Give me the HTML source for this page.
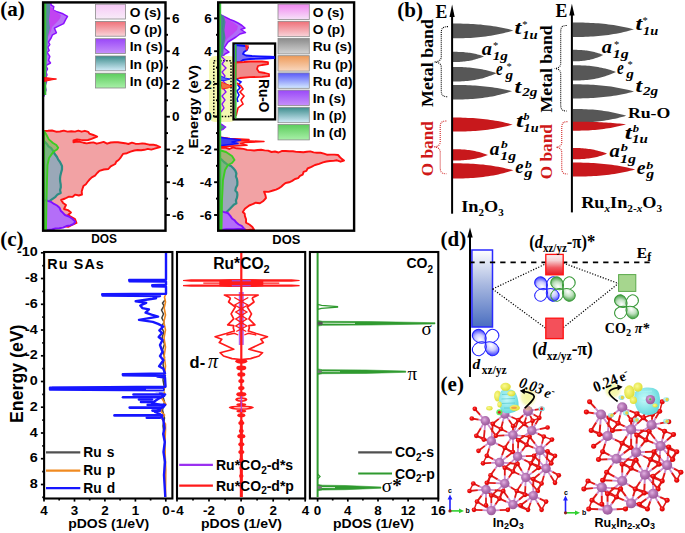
<!DOCTYPE html>
<html><head><meta charset="utf-8"><style>
html,body{margin:0;padding:0;background:#fff;}
svg{display:block;}
.s{font-family:"Liberation Sans",sans-serif;font-weight:bold;}
.t{font-family:"Liberation Serif",serif;font-weight:bold;}
.ti{font-family:"Liberation Serif",serif;font-weight:bold;font-style:italic;}
</style></head><body>
<svg width="685" height="533" viewBox="0 0 685 533">
<defs>
<linearGradient id="gOs" x1="0" y1="0" x2="0" y2="1"><stop offset="0" stop-color="#f086f0"/><stop offset="1" stop-color="#f6e2f8"/></linearGradient>
<linearGradient id="gOs1" x1="0" y1="0" x2="0" y2="1"><stop offset="0" stop-color="#f6c8f6"/><stop offset="1" stop-color="#f8ecf8"/></linearGradient>
<linearGradient id="gOp" x1="0" y1="0" x2="0" y2="1"><stop offset="0" stop-color="#f07078"/><stop offset="1" stop-color="#f8d4da"/></linearGradient>
<linearGradient id="gIs" x1="0" y1="0" x2="0" y2="1"><stop offset="0" stop-color="#9a48f8"/><stop offset="1" stop-color="#c690fa"/></linearGradient>
<linearGradient id="gIp" x1="0" y1="0" x2="0" y2="1"><stop offset="0" stop-color="#3c8c8c"/><stop offset="1" stop-color="#d4ecf8"/></linearGradient>
<linearGradient id="gId" x1="0" y1="0" x2="0" y2="1"><stop offset="0" stop-color="#5ccc5c"/><stop offset="1" stop-color="#a8f0a8"/></linearGradient>
<linearGradient id="gRs" x1="0" y1="0" x2="0" y2="1"><stop offset="0" stop-color="#8c8c8c"/><stop offset="1" stop-color="#d4d4d4"/></linearGradient>
<linearGradient id="gRp" x1="0" y1="0" x2="0" y2="1"><stop offset="0" stop-color="#ee9a58"/><stop offset="1" stop-color="#f8d8c0"/></linearGradient>
<linearGradient id="gRd" x1="0" y1="0" x2="0" y2="1"><stop offset="0" stop-color="#5858f8"/><stop offset="1" stop-color="#d4eaff"/></linearGradient>
<linearGradient id="gBlue" x1="0" y1="0" x2="0" y2="1"><stop offset="0" stop-color="#ffffff"/><stop offset="0.45" stop-color="#a8b8e0"/><stop offset="1" stop-color="#4a6ec0"/></linearGradient>
<linearGradient id="gRedT" x1="0" y1="0" x2="0" y2="1"><stop offset="0" stop-color="#fcf2f3"/><stop offset="0.3" stop-color="#f6d0d3"/><stop offset="0.65" stop-color="#f05a62"/><stop offset="1" stop-color="#ec1822"/></linearGradient>
<radialGradient id="gY" cx="0.5" cy="0.5" r="0.5"><stop offset="0" stop-color="#f4f8a0"/><stop offset="0.7" stop-color="#f6f9b8"/><stop offset="1" stop-color="#ffffff" stop-opacity="0"/></radialGradient>
</defs>

<!-- ============ PANEL A ============ -->
<g id="pa">
<text class="t" x="0.3" y="15.8" font-size="21">(a)</text>
<polygon points="44,3 51,3 51,5 53.8,6.6 53.1,9.8 57,11.8 63,13.8 67.5,16.4 65.6,19.7 63.6,23.6 58.4,26.2 54.4,28.2 56.4,32.8 52.5,34.8 51.1,38 48.5,42 49.8,44.6 47.9,47.2 49.2,50.5 47.2,52.5 49.8,56.4 48.5,60.3 50.5,63 45.9,65.6 47.5,69 46,72 47,75 45.5,78 46.5,82 45,86 46,90 44.5,94 44,96" fill="#b873f8" stroke="#8a10ff" stroke-width="1.5" stroke-linejoin="round"/>
<polygon points="44,4 49,5 52,8 55,11 58,13 61,15.5 60,18.5 58,21 55,24 52,27 51,31 49,35 47,40 46,48 45,60 44,64" fill="#c23cf0" opacity="0.85"/>
<polygon points="44,3 50,3 50,12 49,20 50,28 48,36 47.5,45 47,55 46.5,65 46,75 45,90 44,96" fill="#5c8aa0"/>
<rect x="44" y="3" width="2.3" height="92" fill="#3cc03c"/><rect x="44" y="130" width="2.3" height="99" fill="#3cc03c"/>
<polygon points="44,77.5 49,78 56.5,79 50,80.2 44,81.5" fill="#ff2020" stroke="#ff1010" stroke-width="1"/>
<polygon points="44.0,131.0 48.0,130.8 52.0,130.5 56.0,131.7 60.0,131.5 63.8,130.6 67.5,131.6 71.3,131.3 75.0,131.6 78.3,130.7 81.6,131.7 84.9,130.8 88.2,131.8 89.3,133.6 93.3,135.0 97.2,136.6 91.5,138.8 88.0,140.0 84.4,140.3 80.7,139.9 77.0,139.4 73.5,140.4 73.5,142.2 76.8,141.5 80.1,141.8 83.4,142.7 86.7,143.4 90.1,142.7 93.4,142.4 96.7,143.7 100.0,142.8 103.6,141.9 107.1,143.7 110.7,142.5 114.3,142.3 117.9,142.3 121.4,142.7 125.0,143.2 128.4,144.0 131.9,142.7 135.3,143.7 138.7,143.9 142.2,143.4 145.6,143.8 149.2,144.7 153.2,144.6 156.8,145.5 160.2,147.2 154.6,148.7 151.3,149.6 147.8,148.9 144.5,149.8 141.1,150.3 137.7,150.0 134.3,150.5 130.6,151.7 126.9,153.2 123.0,153.9 120.8,157.3 118.6,160.0 116.3,161.6 115.2,164.0 110.7,166.3 108.4,169.0 103.8,169.5 99.4,170.8 97.2,173.0 95.0,175.7 91.8,177.4 89.3,179.8 87.5,182.0 85.9,184.3 83.4,186.1 82.5,188.8 81.7,191.6 82.0,194.5 78.8,195.5 75.3,194.6 72.4,196.9 69.0,196.7 65.1,198.5 61.1,200.0 63.1,202.9 66.0,205.0 64.0,209.0 67.9,210.1 71.0,212.5 68.0,215.0 71.5,217.0 75.0,219.0 76.5,223.0 72.0,225.0 68.2,226.8 63.9,226.3 60.0,227.5 56.5,227.6 53.3,228.7 50.0,229.5 44.0,229.5" fill="#f2a2a4" stroke="#ff1010" stroke-width="1.9" stroke-linejoin="round"/>
<polygon points="44.0,141.0 47.0,144.0 48.5,146.4 51.0,148.0 53.0,150.6 54.4,153.5 57.0,157.0 58.2,159.6 60.0,162.0 62.0,166.0 62.0,169.4 61.0,173.0 60.3,175.9 60.0,178.8 60.2,181.6 60.7,184.4 60.8,187.3 60.1,190.1 60.7,193.0 57.6,194.4 55.5,196.8 53.0,198.6 50.4,200.4 49.0,203.3 48.2,206.3 49.3,208.7 48.4,211.2 49.0,213.6 48.2,216.0 47.1,218.3 47.5,220.9 46.2,223.7 46.4,226.7 45.3,229.5 44.0,229.5" fill="#9aa8b8" stroke="#2e8c84" stroke-width="2.2" stroke-linejoin="round"/>
<polygon points="44,190 46,193 48,198 49,205 48.5,212 47,220 46,229.5 44,229.5" fill="#8c8ce8"/>
<polygon points="44.0,200.0 47.6,200.8 51.2,201.9 54.0,203.9 57.0,205.5 59.5,207.7 60.7,210.7 62.9,212.8 65.0,215.0 68.9,216.5 72.3,218.7 75.3,221.6 73.8,223.8 70.3,225.4 66.5,226.0 63.1,227.6 59.2,228.2 55.5,228.5 51.9,229.5 48.0,230.0 44.0,229.5" fill="#b46ef8" stroke="#8010ff" stroke-width="1.9" stroke-linejoin="round"/>
<polygon points="44,131 46,134 48.8,139.4 53,143 56.3,145 58.2,147.8 57,149.5 53.5,151.6 49,158 47.5,165 47,180 46.5,200 46,229.5 44,229.5" fill="#60c050" fill-opacity="0.55" stroke="#3ccc22" stroke-width="1.9" stroke-linejoin="round"/>
<rect x="43.1" y="2.4" width="122.4" height="228.3" fill="none" stroke="#000" stroke-width="2.4"/>
<line x1="165.3" y1="215.0" x2="169.9" y2="215.0" stroke="#000" stroke-width="1.9"/>
<text class="s" transform="translate(172,219.6) scale(1.075,1)" font-size="12.6">-6</text>
<line x1="165.3" y1="198.6" x2="168.0" y2="198.6" stroke="#000" stroke-width="1.9"/>
<line x1="165.3" y1="182.2" x2="169.9" y2="182.2" stroke="#000" stroke-width="1.9"/>
<text class="s" transform="translate(172,186.8) scale(1.075,1)" font-size="12.6">-4</text>
<line x1="165.3" y1="165.8" x2="168.0" y2="165.8" stroke="#000" stroke-width="1.9"/>
<line x1="165.3" y1="149.5" x2="169.9" y2="149.5" stroke="#000" stroke-width="1.9"/>
<text class="s" transform="translate(172,154.1) scale(1.075,1)" font-size="12.6">-2</text>
<line x1="165.3" y1="133.1" x2="168.0" y2="133.1" stroke="#000" stroke-width="1.9"/>
<line x1="165.3" y1="116.7" x2="169.9" y2="116.7" stroke="#000" stroke-width="1.9"/>
<text class="s" transform="translate(172,121.3) scale(1.075,1)" font-size="12.6">0</text>
<line x1="165.3" y1="100.3" x2="168.0" y2="100.3" stroke="#000" stroke-width="1.9"/>
<line x1="165.3" y1="83.9" x2="169.9" y2="83.9" stroke="#000" stroke-width="1.9"/>
<text class="s" transform="translate(172,88.5) scale(1.075,1)" font-size="12.6">2</text>
<line x1="165.3" y1="67.6" x2="168.0" y2="67.6" stroke="#000" stroke-width="1.9"/>
<line x1="165.3" y1="51.2" x2="169.9" y2="51.2" stroke="#000" stroke-width="1.9"/>
<text class="s" transform="translate(172,55.8) scale(1.075,1)" font-size="12.6">4</text>
<line x1="165.3" y1="34.8" x2="168.0" y2="34.8" stroke="#000" stroke-width="1.9"/>
<line x1="165.3" y1="18.4" x2="169.9" y2="18.4" stroke="#000" stroke-width="1.9"/>
<text class="s" transform="translate(172,23.0) scale(1.075,1)" font-size="12.6">6</text>
<rect x="95.5" y="4.2" width="30" height="14.8" fill="url(#gOs1)" stroke="#8a8a8a" stroke-width="0.8"/>
<text class="s" transform="translate(129.8,16.8) scale(1.075,1)" font-size="12.8">O (s)</text>
<rect x="95.5" y="21.4" width="30" height="14.8" fill="url(#gOp)" stroke="#8a8a8a" stroke-width="0.8"/>
<text class="s" transform="translate(129.8,34.0) scale(1.075,1)" font-size="12.8">O (p)</text>
<rect x="95.5" y="38.7" width="30" height="14.8" fill="url(#gIs)" stroke="#8a8a8a" stroke-width="0.8"/>
<text class="s" transform="translate(129.8,51.3) scale(1.075,1)" font-size="12.8">In (s)</text>
<rect x="95.5" y="56.0" width="30" height="14.8" fill="url(#gIp)" stroke="#8a8a8a" stroke-width="0.8"/>
<text class="s" transform="translate(129.8,68.5) scale(1.075,1)" font-size="12.8">In (p)</text>
<rect x="95.5" y="73.2" width="30" height="14.8" fill="url(#gId)" stroke="#8a8a8a" stroke-width="0.8"/>
<text class="s" transform="translate(129.8,85.8) scale(1.075,1)" font-size="12.8">In (d)</text>
<text class="s" x="91.2" y="243.4" font-size="12.3" textLength="25.8" lengthAdjust="spacingAndGlyphs">DOS</text>
<text class="s" transform="translate(198,148.5) rotate(-90)" font-size="13" textLength="83.5" lengthAdjust="spacingAndGlyphs">Energy (eV)</text>
<polygon points="219,14 222,15.5 226,17.5 230,19.5 234,21 238,23 242,25.5 245,28 241,29.5 245.5,32.5 240,34 236,37 232,39.5 228,42 226,45 224,48 229,52 225,54 222,57 225,60 222,64 226,68 222,72 225,76 222,80 226,84 223,88 226,92 222,96 225,100 222,104 224,108 221,112 219,114" fill="#b06cf8" stroke="#8a10ff" stroke-width="1.5" stroke-linejoin="round"/>
<polygon points="219,15 224,17 229,20 234,23 238,26 237,30 233,34 228,38 225,42 222,48 221,55 219,60" fill="#c23cf0" opacity="0.8"/>
<polygon points="219,14 224,16 225.5,22 224.5,30 225.5,38 224,46 223,56 222,66 221,80 219,90" fill="#4f7fa0"/><polyline points="221,15 223.5,20 222.5,28 224,36 222.5,44 222,52" fill="none" stroke="#3a9080" stroke-width="1.2"/>
<polygon points="219,123 222,124.4 225.7,127 223,129.5 219,130.8" fill="#4e8a96" stroke="#8a10ff" stroke-width="1.2"/>
<polygon points="219,137 230,138.6 249,139.4 238,140.5 264,141.5 245,142.6 240.6,143.6 247,145.3 230,146.2 219,146.8" fill="#f08080" stroke="#ff1010" stroke-width="1.5" stroke-linejoin="round"/>
<polygon points="219,137.2 228,138.5 240.6,140 232,142 238,143.5 226,145 219,145.8" fill="#4040f0" stroke="#1010ff" stroke-width="1.5" stroke-linejoin="round"/>
<polygon points="219.0,147.9 222.5,147.5 226.0,147.9 229.5,149.0 233.0,147.4 236.5,148.3 240.0,148.5 243.5,148.9 247.0,149.9 250.5,150.1 254.1,150.5 257.7,150.0 261.2,149.8 264.6,150.4 268.1,150.6 271.5,152.0 275.0,151.5 278.5,152.5 282.2,150.9 285.7,151.0 289.3,151.2 292.9,151.3 296.4,151.9 300.0,152.0 303.4,152.3 306.8,151.8 310.3,151.4 313.6,152.4 317.0,152.7 320.5,152.8 324.0,153.6 327.4,154.8 330.9,154.6 334.5,154.6 338.0,155.0 339.8,157.0 341.7,158.9 344.0,160.5 340.6,161.7 336.9,160.3 333.4,160.9 329.9,161.0 326.4,161.5 323.0,162.4 319.1,163.9 315.0,165.0 311.4,166.9 307.6,168.5 306.4,170.9 303.6,171.9 302.7,174.6 300.0,175.8 298.1,178.2 295.0,179.0 292.2,180.9 289.1,182.3 285.6,183.0 283.3,184.8 281.2,186.8 278.7,188.4 276.0,189.6 273.0,190.5 268.6,191.9 264.0,191.7 265.3,194.8 266.0,198.0 263.0,201.3 259.9,203.3 255.8,202.7 252.6,204.2 249.2,205.5 244.9,208.8 242.8,212.0 244.7,213.8 244.9,216.2 246.1,219.3 246.0,222.6 249.4,224.5 252.4,226.9 254.0,229.5 250.5,229.8 247.0,230.3 243.5,228.8 240.0,228.5 236.5,229.6 233.0,229.5 229.5,230.4 226.0,230.3 222.5,229.8 219.0,229.5" fill="#f2a2a4" stroke="#ff1010" stroke-width="1.9" stroke-linejoin="round"/>
<polygon points="219.0,158.0 221.8,159.7 224.0,162.0 227.2,164.4 231.0,166.0 233.3,168.2 235.3,170.6 236.4,173.5 235.9,176.4 237.0,179.2 237.4,182.0 237.3,185.0 235.9,187.7 235.3,190.6 237.1,192.5 237.4,194.9 237.0,197.7 235.9,200.5 236.4,203.4 233.8,204.8 231.9,206.8 230.0,208.8 226.7,212.0 226.5,214.6 225.7,217.2 225.4,219.8 223.7,222.1 223.5,224.8 223.2,227.1 223.0,229.5 219.0,229.5" fill="#9aa8b8" stroke="#2e8c84" stroke-width="2.2" stroke-linejoin="round"/>
<polygon points="219,192 221,195 223,205 222.5,215 222,229.5 219,229.5" fill="#8c8ce8"/>
<polygon points="219.0,210.0 223.3,211.8 227.8,213.0 230.1,215.6 232.0,218.4 234.5,220.2 236.4,222.6 238.8,224.5 241.7,225.8 244.9,229.5 241.2,228.9 237.5,229.0 233.8,229.1 230.1,229.1 226.4,229.2 222.7,229.8 219.0,229.5" fill="#b46ef8" stroke="#8010ff" stroke-width="1.9" stroke-linejoin="round"/>
<polygon points="219,150 226,152 232,156 234.5,160 232,163 228,165 225,170 224,175 223,180 222,200 221.5,229.5 219,229.5" fill="#60c050" fill-opacity="0.55" stroke="#3ccc22" stroke-width="1.9" stroke-linejoin="round"/>
<rect x="219" y="3" width="2.2" height="226" fill="#3cc03c"/>
<rect x="209" y="56" width="27" height="66" rx="6" fill="#f3f7a8" opacity="0.9"/>
<rect x="213.8" y="60.8" width="17.2" height="55.6" fill="none" stroke="#000" stroke-width="1.5" stroke-dasharray="1.5,1.6"/>
<polyline points="221,56 225,60 222,64 226,68 222,72 225,76 222,80 226,84 223,88 226,92 222,96 225,100 222,104 224,108 221,112" fill="none" stroke="#8a10ff" stroke-width="1.3"/>
<polygon points="221,82 226,84 232,86 228,88 222,89" fill="#f07040" stroke="#ff3010" stroke-width="1"/>
<polyline points="221,76 225,78 230,79 225,80.5 221,80.5" fill="#6060f0" stroke="#2020ff" stroke-width="1"/>
<rect x="219" y="56" width="2.2" height="66" fill="#3cc03c"/>
<rect x="218.2" y="2.4" width="135.9" height="228.3" fill="none" stroke="#000" stroke-width="2.4"/>
<line x1="214.1" y1="215.0" x2="218.2" y2="215.0" stroke="#000" stroke-width="1.9"/>
<text class="s" transform="translate(211.8,219.6) scale(1.075,1)" font-size="12.6" text-anchor="end">-6</text>
<line x1="216.0" y1="198.6" x2="218.2" y2="198.6" stroke="#000" stroke-width="1.9"/>
<line x1="214.1" y1="182.2" x2="218.2" y2="182.2" stroke="#000" stroke-width="1.9"/>
<text class="s" transform="translate(211.8,186.8) scale(1.075,1)" font-size="12.6" text-anchor="end">-4</text>
<line x1="216.0" y1="165.8" x2="218.2" y2="165.8" stroke="#000" stroke-width="1.9"/>
<line x1="214.1" y1="149.5" x2="218.2" y2="149.5" stroke="#000" stroke-width="1.9"/>
<text class="s" transform="translate(211.8,154.1) scale(1.075,1)" font-size="12.6" text-anchor="end">-2</text>
<line x1="216.0" y1="133.1" x2="218.2" y2="133.1" stroke="#000" stroke-width="1.9"/>
<line x1="214.1" y1="116.7" x2="218.2" y2="116.7" stroke="#000" stroke-width="1.9"/>
<text class="s" transform="translate(211.8,121.3) scale(1.075,1)" font-size="12.6" text-anchor="end">0</text>
<line x1="216.0" y1="100.3" x2="218.2" y2="100.3" stroke="#000" stroke-width="1.9"/>
<line x1="214.1" y1="83.9" x2="218.2" y2="83.9" stroke="#000" stroke-width="1.9"/>
<text class="s" transform="translate(211.8,88.5) scale(1.075,1)" font-size="12.6" text-anchor="end">2</text>
<line x1="216.0" y1="67.6" x2="218.2" y2="67.6" stroke="#000" stroke-width="1.9"/>
<line x1="214.1" y1="51.2" x2="218.2" y2="51.2" stroke="#000" stroke-width="1.9"/>
<text class="s" transform="translate(211.8,55.8) scale(1.075,1)" font-size="12.6" text-anchor="end">4</text>
<line x1="216.0" y1="34.8" x2="218.2" y2="34.8" stroke="#000" stroke-width="1.9"/>
<line x1="214.1" y1="18.4" x2="218.2" y2="18.4" stroke="#000" stroke-width="1.9"/>
<text class="s" transform="translate(211.8,23.0) scale(1.075,1)" font-size="12.6" text-anchor="end">6</text>
<rect x="233.5" y="43.5" width="41.6" height="75.9" fill="#fff" stroke="#000" stroke-width="2.3"/>
<polygon points="235.5,45 240,45.5 245,46 248,47.5 247,50 244,52 243,54 246,55.5 252,56 260,56.3 270,56.7 274,57 274,58.2 265,58.5 250,59 243,60 240,62 235.5,62" fill="#8070f0" stroke="#1010ff" stroke-width="1.8" stroke-linejoin="round"/>
<polygon points="245,44.8 249,45.5 248,49 246,51" fill="#ff2020"/>
<polygon points="235.5,62.5 244,62 250,61.5 262,61.5 268,62.2 268,64.2 262,65 258,66 257,69 259,72 265,73 269,74 269,76.2 262,76.8 250,77.2 240,78 237,79 235.5,79" fill="#f08a8a" stroke="#ff1010" stroke-width="1.8" stroke-linejoin="round"/>
<polyline points="236,79 241,82 238,85 240,88 237,91 239,95 237,99 238,102" fill="none" stroke="#1010ff" stroke-width="1.6"/>
<polyline points="237,83 241,86 243,89 240,92 244,96 241,100 243,104 238,108 237,112 236,116" fill="none" stroke="#ff1010" stroke-width="1.6"/>
<line x1="235.8" y1="44.5" x2="235.8" y2="118.5" stroke="#3cc03c" stroke-width="1.6"/>
<text class="s" transform="translate(258.5,79) rotate(90)" font-size="14" textLength="33.5" lengthAdjust="spacingAndGlyphs">Ru-O</text>
<rect x="278" y="4.1" width="31.3" height="15.4" fill="url(#gOs)" stroke="#8a8a8a" stroke-width="0.8"/>
<text class="s" transform="translate(312.8,17.0) scale(1.075,1)" font-size="12.8">O (s)</text>
<rect x="278" y="21.3" width="31.3" height="15.4" fill="url(#gOp)" stroke="#8a8a8a" stroke-width="0.8"/>
<text class="s" transform="translate(312.8,34.2) scale(1.075,1)" font-size="12.8">O (p)</text>
<rect x="278" y="38.5" width="31.3" height="15.4" fill="url(#gRs)" stroke="#8a8a8a" stroke-width="0.8"/>
<text class="s" transform="translate(312.8,51.4) scale(1.075,1)" font-size="12.8">Ru (s)</text>
<rect x="278" y="55.7" width="31.3" height="15.4" fill="url(#gRp)" stroke="#8a8a8a" stroke-width="0.8"/>
<text class="s" transform="translate(312.8,68.6) scale(1.075,1)" font-size="12.8">Ru (p)</text>
<rect x="278" y="72.9" width="31.3" height="15.4" fill="url(#gRd)" stroke="#8a8a8a" stroke-width="0.8"/>
<text class="s" transform="translate(312.8,85.8) scale(1.075,1)" font-size="12.8">Ru (d)</text>
<rect x="278" y="90.1" width="31.3" height="15.4" fill="url(#gIs)" stroke="#8a8a8a" stroke-width="0.8"/>
<text class="s" transform="translate(312.8,103.0) scale(1.075,1)" font-size="12.8">In (s)</text>
<rect x="278" y="107.3" width="31.3" height="15.4" fill="url(#gIp)" stroke="#8a8a8a" stroke-width="0.8"/>
<text class="s" transform="translate(312.8,120.2) scale(1.075,1)" font-size="12.8">In (p)</text>
<rect x="278" y="124.5" width="31.3" height="15.4" fill="url(#gId)" stroke="#8a8a8a" stroke-width="0.8"/>
<text class="s" transform="translate(312.8,137.4) scale(1.075,1)" font-size="12.8">In (d)</text>
<text class="s" x="272.3" y="244.2" font-size="13" textLength="28" lengthAdjust="spacingAndGlyphs">DOS</text>
</g>
<text class="t" x="397.3" y="16.6" font-size="21">(b)</text>
<polygon points="453.0,23.6 455.5,23.6 458.0,23.6 460.6,23.6 463.1,23.7 465.6,23.8 468.1,23.8 470.6,24.0 473.1,24.1 475.6,24.2 478.2,24.4 480.7,24.6 483.2,24.9 485.7,25.2 488.2,25.5 490.8,25.8 493.3,26.2 495.8,26.6 498.3,27.0 500.8,27.5 503.3,28.0 505.8,28.5 508.4,29.1 510.9,29.7 513.4,30.4 513.4,30.4 510.9,31.2 508.4,31.9 505.8,32.6 503.3,33.2 500.8,33.8 498.3,34.3 495.8,34.8 493.3,35.3 490.8,35.7 488.2,36.1 485.7,36.5 483.2,36.8 480.7,37.1 478.2,37.3 475.6,37.5 473.1,37.7 470.6,37.9 468.1,38.0 465.6,38.1 463.1,38.2 460.6,38.2 458.0,38.3 455.5,38.3 453.0,38.3" fill="#575757"/>
<polygon points="453.0,51.8 454.3,51.8 455.6,51.8 456.9,51.8 458.2,51.9 459.5,51.9 460.8,52.0 462.0,52.0 463.3,52.1 464.6,52.2 465.9,52.4 467.2,52.5 468.5,52.7 469.8,52.8 471.1,53.0 472.4,53.3 473.7,53.5 475.0,53.8 476.2,54.1 477.5,54.4 478.8,54.7 480.1,55.1 481.4,55.5 482.7,55.9 484.0,56.3 484.0,56.3 482.7,56.9 481.4,57.4 480.1,57.9 478.8,58.3 477.5,58.7 476.2,59.1 475.0,59.5 473.7,59.8 472.4,60.2 471.1,60.4 469.8,60.7 468.5,60.9 467.2,61.1 465.9,61.3 464.6,61.5 463.3,61.6 462.0,61.7 460.8,61.8 459.5,61.9 458.2,61.9 456.9,62.0 455.6,62.0 454.3,62.0 453.0,62.0" fill="#575757"/>
<polygon points="453.0,67.0 454.8,67.0 456.6,67.0 458.4,67.0 460.2,67.1 462.1,67.1 463.9,67.2 465.7,67.3 467.5,67.4 469.3,67.6 471.1,67.8 472.9,68.0 474.8,68.2 476.6,68.4 478.4,68.7 480.2,69.0 482.0,69.3 483.8,69.7 485.6,70.1 487.4,70.5 489.2,71.0 491.1,71.5 492.9,72.0 494.7,72.6 496.5,73.2 496.5,73.2 494.7,74.0 492.9,74.8 491.1,75.5 489.2,76.1 487.4,76.8 485.6,77.3 483.8,77.9 482.0,78.4 480.2,78.8 478.4,79.2 476.6,79.6 474.8,79.9 472.9,80.2 471.1,80.5 469.3,80.7 467.5,80.9 465.7,81.1 463.9,81.2 462.1,81.3 460.2,81.4 458.4,81.4 456.6,81.5 454.8,81.5 453.0,81.5" fill="#575757"/>
<polygon points="453.0,85.0 455.5,85.0 457.9,85.0 460.4,85.0 462.8,85.1 465.3,85.1 467.8,85.2 470.2,85.3 472.7,85.4 475.1,85.6 477.6,85.8 480.0,86.0 482.5,86.2 485.0,86.4 487.4,86.7 489.9,87.0 492.3,87.3 494.8,87.7 497.2,88.1 499.7,88.5 502.2,89.0 504.6,89.5 507.1,90.0 509.5,90.6 512.0,91.2 512.0,91.2 509.5,92.0 507.1,92.8 504.6,93.5 502.2,94.1 499.7,94.8 497.2,95.3 494.8,95.9 492.3,96.4 489.9,96.8 487.4,97.2 485.0,97.6 482.5,97.9 480.0,98.2 477.6,98.5 475.1,98.7 472.7,98.9 470.2,99.1 467.8,99.2 465.3,99.3 462.8,99.4 460.4,99.4 457.9,99.5 455.5,99.5 453.0,99.5" fill="#575757"/>
<polygon points="453.0,117.6 455.5,117.6 458.0,117.6 460.5,117.6 462.9,117.7 465.4,117.8 467.9,117.9 470.4,118.0 472.9,118.1 475.4,118.3 477.9,118.5 480.4,118.7 482.9,118.9 485.3,119.2 487.8,119.5 490.3,119.9 492.8,120.2 495.3,120.7 497.8,121.1 500.3,121.6 502.8,122.1 505.2,122.7 507.7,123.3 510.2,123.9 512.7,124.6 512.7,124.6 510.2,125.3 507.7,125.9 505.2,126.5 502.8,127.1 500.3,127.6 497.8,128.1 495.3,128.5 492.8,129.0 490.3,129.3 487.8,129.7 485.3,130.0 482.9,130.3 480.4,130.5 477.9,130.7 475.4,130.9 472.9,131.1 470.4,131.2 467.9,131.3 465.4,131.4 462.9,131.5 460.5,131.6 458.0,131.6 455.5,131.6 453.0,131.6" fill="#c8181c"/>
<polygon points="453.0,149.2 454.5,149.2 455.9,149.2 457.4,149.2 458.8,149.3 460.3,149.3 461.8,149.4 463.2,149.5 464.7,149.6 466.1,149.8 467.6,149.9 469.0,150.1 470.5,150.3 472.0,150.5 473.4,150.8 474.9,151.1 476.3,151.4 477.8,151.7 479.2,152.1 480.7,152.5 482.2,152.9 483.6,153.4 485.1,153.9 486.5,154.4 488.0,155.0 488.0,155.0 486.5,155.5 485.1,156.0 483.6,156.5 482.2,156.9 480.7,157.4 479.2,157.7 477.8,158.1 476.3,158.4 474.9,158.7 473.4,159.0 472.0,159.2 470.5,159.5 469.0,159.7 467.6,159.8 466.1,160.0 464.7,160.1 463.2,160.2 461.8,160.3 460.3,160.4 458.8,160.4 457.4,160.5 455.9,160.5 454.5,160.5 453.0,160.5" fill="#c8181c"/>
<polygon points="453.0,163.3 455.5,163.3 458.0,163.3 460.6,163.3 463.1,163.4 465.6,163.5 468.1,163.6 470.6,163.7 473.1,163.8 475.6,164.0 478.2,164.2 480.7,164.4 483.2,164.6 485.7,164.9 488.2,165.2 490.8,165.6 493.3,165.9 495.8,166.4 498.3,166.8 500.8,167.3 503.3,167.8 505.8,168.4 508.4,169.0 510.9,169.6 513.4,170.3 513.4,170.3 510.9,171.1 508.4,171.8 505.8,172.5 503.3,173.2 500.8,173.8 498.3,174.4 495.8,174.9 493.3,175.4 490.8,175.8 488.2,176.3 485.7,176.6 483.2,176.9 480.7,177.2 478.2,177.5 475.6,177.7 473.1,177.9 470.6,178.1 468.1,178.2 465.6,178.3 463.1,178.4 460.6,178.4 458.0,178.5 455.5,178.5 453.0,178.5" fill="#c8181c"/>
<line x1="452.1" y1="12" x2="452.1" y2="213.7" stroke="#000" stroke-width="2"/>
<path d="M452.1,4.6 L449.5,17 L454.7,17 Z" fill="#000"/>
<text class="t" x="435.6" y="17.6" font-size="17.8">E</text>
<polygon points="572.8,22.5 575.3,22.5 577.9,22.5 580.4,22.5 583.0,22.6 585.5,22.7 588.1,22.7 590.6,22.9 593.2,23.0 595.8,23.2 598.3,23.3 600.9,23.6 603.4,23.8 605.9,24.1 608.5,24.4 611.0,24.7 613.6,25.1 616.1,25.5 618.7,26.0 621.2,26.4 623.8,27.0 626.4,27.5 628.9,28.1 631.5,28.7 634.0,29.4 634.0,29.4 631.5,30.1 628.9,30.8 626.4,31.5 623.8,32.1 621.2,32.7 618.7,33.2 616.1,33.7 613.6,34.1 611.0,34.5 608.5,34.9 605.9,35.3 603.4,35.6 600.9,35.8 598.3,36.1 595.8,36.3 593.2,36.5 590.6,36.6 588.1,36.7 585.5,36.8 583.0,36.9 580.4,36.9 577.9,37.0 575.3,37.0 572.8,37.0" fill="#575757"/>
<polygon points="572.8,49.8 574.1,49.8 575.3,49.8 576.6,49.8 577.9,49.9 579.2,49.9 580.4,50.0 581.7,50.1 583.0,50.2 584.2,50.3 585.5,50.4 586.8,50.6 588.0,50.8 589.3,51.0 590.6,51.2 591.9,51.5 593.1,51.8 594.4,52.1 595.7,52.4 596.9,52.8 598.2,53.2 599.5,53.6 600.8,54.0 602.0,54.5 603.3,55.0 603.3,55.0 602.0,55.6 600.8,56.2 599.5,56.7 598.2,57.2 596.9,57.7 595.7,58.1 594.4,58.5 593.1,58.9 591.9,59.3 590.6,59.6 589.3,59.9 588.0,60.1 586.8,60.3 585.5,60.5 584.2,60.7 583.0,60.8 581.7,61.0 580.4,61.1 579.2,61.2 577.9,61.2 576.6,61.3 575.3,61.3 574.1,61.3 572.8,61.3" fill="#575757"/>
<polygon points="572.8,65.2 574.6,65.2 576.4,65.2 578.2,65.2 580.0,65.3 581.8,65.4 583.6,65.4 585.4,65.6 587.2,65.7 589.0,65.8 590.8,66.0 592.6,66.2 594.4,66.5 596.2,66.8 598.0,67.1 599.8,67.4 601.6,67.8 603.4,68.2 605.2,68.6 607.0,69.1 608.8,69.6 610.6,70.1 612.4,70.7 614.2,71.3 616.0,72.0 616.0,72.0 614.2,72.8 612.4,73.6 610.6,74.3 608.8,75.0 607.0,75.6 605.2,76.2 603.4,76.8 601.6,77.3 599.8,77.7 598.0,78.2 596.2,78.5 594.4,78.9 592.6,79.2 590.8,79.5 589.0,79.7 587.2,79.9 585.4,80.1 583.6,80.2 581.8,80.3 580.0,80.4 578.2,80.4 576.4,80.5 574.6,80.5 572.8,80.5" fill="#575757"/>
<polygon points="572.8,84.3 575.3,84.3 577.9,84.3 580.4,84.3 583.0,84.4 585.5,84.5 588.1,84.6 590.6,84.7 593.2,84.8 595.8,85.0 598.3,85.2 600.9,85.4 603.4,85.7 605.9,86.0 608.5,86.3 611.0,86.6 613.6,87.0 616.1,87.4 618.7,87.9 621.2,88.4 623.8,88.9 626.4,89.5 628.9,90.1 631.5,90.8 634.0,91.5 634.0,91.5 631.5,92.2 628.9,92.8 626.4,93.4 623.8,93.9 621.2,94.5 618.7,94.9 616.1,95.4 613.6,95.8 611.0,96.2 608.5,96.5 605.9,96.8 603.4,97.1 600.9,97.3 598.3,97.6 595.8,97.7 593.2,97.9 590.6,98.0 588.1,98.2 585.5,98.2 583.0,98.3 580.4,98.4 577.9,98.4 575.3,98.4 572.8,98.4" fill="#575757"/>
<polygon points="572.8,109.0 575.0,109.0 577.2,109.0 579.5,109.0 581.7,109.1 583.9,109.2 586.1,109.2 588.4,109.4 590.6,109.5 592.8,109.6 595.0,109.8 597.3,110.0 599.5,110.3 601.7,110.6 604.0,110.9 606.2,111.2 608.4,111.6 610.6,112.0 612.9,112.4 615.1,112.9 617.3,113.4 619.5,113.9 621.8,114.5 624.0,115.1 626.2,115.8 626.2,115.8 624.0,116.5 621.8,117.1 619.5,117.6 617.3,118.2 615.1,118.7 612.9,119.1 610.6,119.6 608.4,120.0 606.2,120.3 604.0,120.7 601.7,121.0 599.5,121.2 597.3,121.5 595.0,121.7 592.8,121.9 590.6,122.0 588.4,122.2 586.1,122.3 583.9,122.3 581.7,122.4 579.5,122.5 577.2,122.5 575.0,122.5 572.8,122.5" fill="#575757"/>
<polygon points="572.8,121.7 575.0,121.7 577.2,121.7 579.4,121.7 581.7,121.7 583.9,121.8 586.1,121.8 588.3,121.8 590.5,121.9 592.8,121.9 595.0,122.0 597.2,122.1 599.4,122.2 601.6,122.3 603.8,122.4 606.0,122.5 608.3,122.7 610.5,122.8 612.7,123.0 614.9,123.2 617.1,123.4 619.4,123.6 621.6,123.8 623.8,124.0 626.0,124.3 626.0,124.3 623.8,124.9 621.6,125.5 619.4,126.1 617.1,126.6 614.9,127.0 612.7,127.5 610.5,127.9 608.3,128.3 606.0,128.6 603.8,128.9 601.6,129.2 599.4,129.5 597.2,129.7 595.0,129.9 592.8,130.1 590.5,130.2 588.3,130.4 586.1,130.5 583.9,130.6 581.7,130.6 579.4,130.7 577.2,130.7 575.0,130.7 572.8,130.7" fill="#c8181c"/>
<polygon points="572.8,148.0 574.2,148.0 575.6,148.0 577.1,148.0 578.5,148.1 579.9,148.1 581.3,148.2 582.8,148.3 584.2,148.4 585.6,148.5 587.0,148.7 588.5,148.9 589.9,149.1 591.3,149.3 592.8,149.6 594.2,149.8 595.6,150.2 597.0,150.5 598.5,150.9 599.9,151.3 601.3,151.7 602.7,152.1 604.1,152.6 605.6,153.1 607.0,153.7 607.0,153.7 605.6,154.2 604.1,154.8 602.7,155.2 601.3,155.7 599.9,156.1 598.5,156.5 597.0,156.9 595.6,157.2 594.2,157.5 592.8,157.8 591.3,158.0 589.9,158.2 588.5,158.4 587.0,158.6 585.6,158.8 584.2,158.9 582.8,159.0 581.3,159.1 579.9,159.2 578.5,159.2 577.1,159.3 575.6,159.3 574.2,159.3 572.8,159.3" fill="#c8181c"/>
<polygon points="572.8,162.6 575.4,162.6 578.0,162.6 580.6,162.6 583.2,162.7 585.8,162.8 588.4,162.8 591.0,163.0 593.6,163.1 596.2,163.3 598.8,163.4 601.4,163.7 604.0,163.9 606.6,164.2 609.2,164.5 611.8,164.8 614.4,165.2 617.0,165.6 619.6,166.1 622.2,166.5 624.8,167.1 627.4,167.6 630.0,168.2 632.6,168.8 635.2,169.5 635.2,169.5 632.6,170.2 630.0,170.8 627.4,171.4 624.8,172.0 622.2,172.5 619.6,173.0 617.0,173.5 614.4,173.9 611.8,174.3 609.2,174.7 606.6,175.0 604.0,175.3 601.4,175.5 598.8,175.7 596.2,175.9 593.6,176.1 591.0,176.2 588.4,176.3 585.8,176.4 583.2,176.5 580.6,176.6 578.0,176.6 575.4,176.6 572.8,176.6" fill="#c8181c"/>
<line x1="571.9" y1="12" x2="571.9" y2="212.4" stroke="#000" stroke-width="2"/>
<path d="M571.9,3.7 L569.3,15.6 L574.5,15.6 Z" fill="#000"/>
<text class="t" x="555.6" y="16.8" font-size="17.8">E</text>
<path d="M448,26.6 C441.25,26.6 441.25,29.6 441.25,34.6 L441.25,57 C441.25,61 436.5,62 434.5,62 C436.5,62 441.25,63 441.25,67 L441.25,88.8 C441.25,93.8 441.25,96.8 448,96.8" fill="none" stroke="#000" stroke-width="1.1" stroke-dasharray="1,1"/>
<path d="M446.4,121 C440.2,121 440.2,124 440.2,129 L440.2,141.9 C440.2,145.9 436,146.9 434,146.9 C436,146.9 440.2,147.9 440.2,151.9 L440.2,165.8 C440.2,170.8 440.2,173.8 446.4,173.8" fill="none" stroke="#d02020" stroke-width="1.1" stroke-dasharray="1,1"/>
<path d="M566.7,25.5 C560.7,25.5 560.7,28.5 560.7,33.5 L560.7,63.5 C560.7,67.5 556.7,68.5 554.7,68.5 C556.7,68.5 560.7,69.5 560.7,73.5 L560.7,103 C560.7,108 560.7,111 566.7,111" fill="none" stroke="#000" stroke-width="1.1" stroke-dasharray="1,1"/>
<path d="M567.5,121.7 C561.75,121.7 561.75,124.7 561.75,129.7 L561.75,142.3 C561.75,146.3 558,147.3 556,147.3 C558,147.3 561.75,148.3 561.75,152.3 L561.75,166 C561.75,171 561.75,174 567.5,174" fill="none" stroke="#d02020" stroke-width="1.1" stroke-dasharray="1,1"/>
<text class="t" transform="translate(433.4,107) rotate(-90)" font-size="17.5" textLength="88" lengthAdjust="spacingAndGlyphs">Metal band</text>
<text class="t" transform="translate(433.4,176.2) rotate(-90)" font-size="17.5" fill="#d01818" textLength="55" lengthAdjust="spacingAndGlyphs">O band</text>
<text class="t" transform="translate(552,112.4) rotate(-90)" font-size="17.5" textLength="87" lengthAdjust="spacingAndGlyphs">Metal band</text>
<text class="t" transform="translate(552,179.2) rotate(-90)" font-size="17.5" fill="#d01818" textLength="55" lengthAdjust="spacingAndGlyphs">O band</text>
<text class="ti" x="514.6" y="34.4" font-size="18" textLength="6.8" lengthAdjust="spacingAndGlyphs">t</text>
<text x="522.2" y="27.9" font-size="10.5" font-family="Liberation Serif,serif">*</text>
<text class="ti" x="522.2" y="38.6" font-size="12" textLength="15.5" lengthAdjust="spacingAndGlyphs">1u</text>
<text class="ti" x="481.7" y="54.6" font-size="18" textLength="10.2" lengthAdjust="spacingAndGlyphs">a</text>
<text x="493.0" y="49.0" font-size="10.5" font-family="Liberation Serif,serif">*</text>
<text class="ti" x="492.7" y="59.7" font-size="12" textLength="15.2" lengthAdjust="spacingAndGlyphs">1g</text>
<text class="ti" x="496.1" y="74.9" font-size="18" textLength="6.7" lengthAdjust="spacingAndGlyphs">e</text>
<text x="506.5" y="70.1" font-size="10.5" font-family="Liberation Serif,serif">*</text>
<text class="ti" x="505.4" y="79.1" font-size="12" textLength="7.6" lengthAdjust="spacingAndGlyphs">g</text>
<text class="ti" x="514.6" y="92.6" font-size="18" textLength="6.8" lengthAdjust="spacingAndGlyphs">t</text>
<text class="ti" x="522.2" y="96.0" font-size="12" textLength="15.2" lengthAdjust="spacingAndGlyphs">2g</text>
<text class="ti" x="516.0" y="126.8" font-size="18" textLength="7.6" lengthAdjust="spacingAndGlyphs">t</text>
<text class="ti" x="523.6" y="120.0" font-size="11" textLength="6.0" lengthAdjust="spacingAndGlyphs">b</text>
<text class="ti" x="523.6" y="132.0" font-size="12" textLength="15.0" lengthAdjust="spacingAndGlyphs">1u</text>
<text class="ti" x="489.8" y="154.6" font-size="18" textLength="9.7" lengthAdjust="spacingAndGlyphs">a</text>
<text class="ti" x="501.0" y="147.8" font-size="11" textLength="6.8" lengthAdjust="spacingAndGlyphs">b</text>
<text class="ti" x="500.3" y="159.6" font-size="12" textLength="15.7" lengthAdjust="spacingAndGlyphs">1g</text>
<text class="ti" x="515.3" y="173.3" font-size="18" textLength="8.3" lengthAdjust="spacingAndGlyphs">e</text>
<text class="ti" x="525.0" y="168.1" font-size="11" textLength="6.8" lengthAdjust="spacingAndGlyphs">b</text>
<text class="ti" x="524.3" y="176.9" font-size="12" textLength="8.3" lengthAdjust="spacingAndGlyphs">g</text>
<text class="ti" x="635.5" y="30.2" font-size="18" textLength="6.7" lengthAdjust="spacingAndGlyphs">t</text>
<text x="642.5" y="23.8" font-size="10.5" font-family="Liberation Serif,serif">*</text>
<text class="ti" x="643.0" y="34.5" font-size="12" textLength="15.2" lengthAdjust="spacingAndGlyphs">1u</text>
<text class="ti" x="601.7" y="53.0" font-size="18" textLength="10.2" lengthAdjust="spacingAndGlyphs">a</text>
<text x="613.9" y="48.2" font-size="10.5" font-family="Liberation Serif,serif">*</text>
<text class="ti" x="612.7" y="58.1" font-size="12" textLength="16.0" lengthAdjust="spacingAndGlyphs">1g</text>
<text class="ti" x="616.9" y="74.1" font-size="18" textLength="6.8" lengthAdjust="spacingAndGlyphs">e</text>
<text x="627.4" y="68.4" font-size="10.5" font-family="Liberation Serif,serif">*</text>
<text class="ti" x="626.2" y="77.5" font-size="12" textLength="7.6" lengthAdjust="spacingAndGlyphs">g</text>
<text class="ti" x="635.5" y="91.8" font-size="18" textLength="6.7" lengthAdjust="spacingAndGlyphs">t</text>
<text class="ti" x="643.0" y="95.2" font-size="12" textLength="15.2" lengthAdjust="spacingAndGlyphs">2g</text>
<text class="t" x="627.9" y="117.5" font-size="15.5" textLength="42.5" lengthAdjust="spacingAndGlyphs">Ru-O</text>
<text class="ti" x="624.7" y="139.0" font-size="18" textLength="7.2" lengthAdjust="spacingAndGlyphs">t</text>
<text class="ti" x="632.7" y="131.9" font-size="11" textLength="6.3" lengthAdjust="spacingAndGlyphs">b</text>
<text class="ti" x="631.9" y="143.4" font-size="12" textLength="15.9" lengthAdjust="spacingAndGlyphs">1u</text>
<text class="ti" x="609.6" y="157.4" font-size="18" textLength="10.3" lengthAdjust="spacingAndGlyphs">a</text>
<text class="ti" x="620.7" y="151.0" font-size="11" textLength="7.2" lengthAdjust="spacingAndGlyphs">b</text>
<text class="ti" x="619.9" y="162.9" font-size="12" textLength="16.0" lengthAdjust="spacingAndGlyphs">1g</text>
<text class="ti" x="636.7" y="174.2" font-size="18" textLength="8.8" lengthAdjust="spacingAndGlyphs">e</text>
<text class="ti" x="646.3" y="168.6" font-size="11" textLength="7.1" lengthAdjust="spacingAndGlyphs">b</text>
<text class="ti" x="646.3" y="178.0" font-size="12" textLength="7.9" lengthAdjust="spacingAndGlyphs">g</text>
<text class="t" x="461.2" y="211.7" font-size="17.5" textLength="42.5" lengthAdjust="spacingAndGlyphs">In<tspan font-size="10.5" dy="3.8">2</tspan><tspan dy="-3.8">O</tspan><tspan font-size="10.5" dy="3.8">3</tspan></text>
<text class="t" x="581.2" y="207.7" font-size="17" textLength="81" lengthAdjust="spacingAndGlyphs">Ru<tspan class="ti" font-size="10.5" dy="3.8">x</tspan><tspan dy="-3.8">In</tspan><tspan font-size="10.5" dy="3.8">2-</tspan><tspan class="ti" font-size="10.5">x</tspan><tspan dy="-3.8">O</tspan><tspan font-size="10.5" dy="3.8">3</tspan></text>
<text class="t" x="0.3" y="245.8" font-size="21">(c)</text>
<polyline points="165.0,300.0 162.5,303.0 164.0,306.0 161.5,310.0 163.5,314.0 161.8,318.0 164.0,322.0 161.5,327.0 163.8,332.0 162.0,338.0 164.5,344.0 162.5,350.0 164.5,357.0 163.0,364.0 164.5,372.0 163.0,380.0 164.5,388.0 162.5,395.0 164.5,402.0 162.5,410.0 164.5,418.0 163.0,426.0 164.8,440.0 164.5,470.0 165.0,497.0" fill="none" stroke="#404040" stroke-width="1.5"/>
<polyline points="166.0,294.0 164.5,297.0 165.5,302.0 164.2,308.0 165.5,315.0 163.8,322.0 165.5,330.0 164.0,338.0 165.5,347.0 164.2,356.0 165.5,366.0 164.5,376.0 165.5,386.0 162.5,390.0 164.5,393.0 161.0,397.0 163.5,401.0 166.0,404.5 162.0,408.0 161.0,411.5 164.5,415.0 162.0,419.0 165.5,424.0 165.5,430.0 164.8,445.0 165.8,470.0 165.5,497.0" fill="none" stroke="#f08a20" stroke-width="1.6"/>
<polyline points="166.0,253.0 166.0,279.6 129.2,280.0 129.5,281.3 166.0,281.6 166.0,284.8 152.2,285.2 152.5,286.3 166.0,286.6 166.0,293.8 102.2,294.2 102.5,295.5 160.0,296.0 153.5,297.0 156.0,298.3 135.7,301.3 146.2,302.9 140.3,305.5 142.3,308.1 148.9,309.4 145.6,312.7 151.5,314.7 158.1,316.6 139.0,319.9 152.8,321.9 158.1,323.9 163.3,326.5 159.4,330.4 162.0,333.0 158.7,337.0 162.5,340.0 160.0,345.0 162.5,351.9 160.0,356.1 163.4,360.3 159.1,366.2 163.4,368.8 165.0,373.4 122.8,374.2 123.0,375.3 165.0,375.8 157.4,376.6 165.0,377.5 165.5,386.8 50.0,387.6 50.0,389.6 163.0,390.2 160.0,393.0 164.0,396.0 158.0,399.0 155.0,401.0 152.0,403.0 160.0,405.0 164.0,406.5 160.0,409.0 155.0,412.0 160.0,414.0 162.0,417.0 163.3,420.0 164.5,428.0 163.2,434.0 164.8,442.0 163.5,452.0 165.0,462.0 164.0,475.0 165.3,497.0" fill="none" stroke="#1616ff" stroke-width="2.4" stroke-linejoin="round"/>
<line x1="133.5" y1="394.5" x2="165" y2="394.5" stroke="#1616ff" stroke-width="2.6" stroke-linecap="round"/>
<line x1="123" y1="397.3" x2="160" y2="397.3" stroke="#1616ff" stroke-width="2.6" stroke-linecap="round"/>
<line x1="139" y1="399.5" x2="152" y2="399.5" stroke="#1616ff" stroke-width="2.6" stroke-linecap="round"/>
<line x1="141" y1="402" x2="152.4" y2="402" stroke="#1616ff" stroke-width="2.6" stroke-linecap="round"/>
<line x1="147.7" y1="404.9" x2="165" y2="404.9" stroke="#1616ff" stroke-width="2.6" stroke-linecap="round"/>
<line x1="129.7" y1="407.6" x2="160" y2="407.6" stroke="#1616ff" stroke-width="2.6" stroke-linecap="round"/>
<line x1="152.5" y1="410.6" x2="160" y2="410.6" stroke="#1616ff" stroke-width="2.6" stroke-linecap="round"/>
<line x1="114.5" y1="415.4" x2="162" y2="415.4" stroke="#1616ff" stroke-width="2.6" stroke-linecap="round"/>
<line x1="146.8" y1="417.7" x2="160" y2="417.7" stroke="#1616ff" stroke-width="2.6" stroke-linecap="round"/>
<line x1="52" y1="388.4" x2="164" y2="388.4" stroke="#1616ff" stroke-width="3.2"/>
<line x1="146" y1="389.4" x2="163" y2="389.4" stroke="#9c9cf4" stroke-width="1.1"/>
<line x1="155.5" y1="391.8" x2="164" y2="391.8" stroke="#9c9cf4" stroke-width="1.6"/>
<rect x="44.1" y="252.0" width="128.3" height="246.5" fill="none" stroke="#000" stroke-width="2.1"/>
<polygon points="183.0,279.9 191.0,279.35 291.6,279.35 299.6,279.9 299.6,281.1 291.6,281.65 191.0,281.65 183.0,281.1" fill="#ff1a1a"/>
<polygon points="183.0,285.09999999999997 191.0,284.55 291.6,284.55 299.6,285.09999999999997 299.6,286.3 291.6,286.84999999999997 191.0,286.84999999999997 183.0,286.3" fill="#ff1a1a"/>
<line x1="203.3" y1="283.1" x2="279.3" y2="283.1" stroke="#ff1a1a" stroke-width="1.4"/>
<polygon points="219.3,280 229.3,279.2 253.3,279.2 263.3,280 263.3,286.2 253.3,287 229.3,287 219.3,286.2" fill="#ff1a1a"/>
<rect x="231.8" y="280" width="19" height="1.4" fill="#b040c8"/><rect x="231.8" y="285" width="19" height="1.4" fill="#b040c8"/>
<line x1="241.3" y1="292" x2="241.3" y2="345" stroke="#a040f0" stroke-width="5" opacity="0.8"/>
<polygon points="224.4,295.0 229.7,297.5 230.3,298.6 228.6,302.0 235.3,307.0 231.1,313.9 233.7,318.9 227.7,324.8 233.7,325.7 233.3,328.0 234.3,331.0 226.3,333.5 215.1,336.7 221.8,339.2 219.3,342.6 233.7,349.3 220.1,352.7 223.5,356.0 232.0,358.6 240.8,359.5 241.8,359.5 250.6,358.6 259.1,356.0 262.5,352.7 248.9,349.3 263.3,342.6 260.8,339.2 267.5,336.7 256.3,333.5 248.3,331.0 249.3,328.0 248.9,325.7 254.9,324.8 248.9,318.9 251.5,313.9 247.3,307.0 254.0,302.0 252.3,298.6 252.9,297.5 258.2,295.0" fill="none" stroke="#ff1a1a" stroke-width="1.7" stroke-linejoin="round"/>
<polyline points="234.3,297.5 247.8,305 235.8,312 246.8,319 235.8,326 246.3,331.5" fill="none" stroke="#ff1a1a" stroke-width="1.4"/>
<polyline points="248.3,297.5 234.8,305 246.8,312 235.8,319 246.8,326 236.3,331.5" fill="none" stroke="#ff1a1a" stroke-width="1.4"/>
<polyline points="226.3,335 234.3,333.3 238.3,335" fill="none" stroke="#ff1a1a" stroke-width="1.3"/><polyline points="256.3,335 248.3,333.3 244.3,335" fill="none" stroke="#ff1a1a" stroke-width="1.3"/>
<line x1="241.3" y1="253" x2="241.3" y2="497" stroke="#ff1a1a" stroke-width="2.2"/>
<line x1="241.3" y1="420" x2="241.3" y2="497" stroke="#ff1a1a" stroke-width="3"/>
<ellipse cx="241.3" cy="361.3" rx="6" ry="2.4" fill="#ff1a1a"/>
<ellipse cx="241.3" cy="367.9" rx="5" ry="2.4" fill="#ff1a1a"/>
<ellipse cx="241.3" cy="374.5" rx="4" ry="2.2" fill="#ff1a1a"/>
<ellipse cx="241.3" cy="381" rx="3" ry="2" fill="#ff1a1a"/>
<ellipse cx="241.3" cy="388" rx="3.2" ry="2" fill="#ff1a1a"/>
<ellipse cx="241.3" cy="394.2" rx="5" ry="2.3" fill="#ff1a1a"/>
<ellipse cx="241.3" cy="399.5" rx="6" ry="2.3" fill="#ff1a1a"/>
<ellipse cx="241.3" cy="404.5" rx="5" ry="1.6" fill="#ff1a1a"/>
<ellipse cx="241.3" cy="407.6" rx="12.5" ry="2.2" fill="#ff1a1a"/>
<ellipse cx="241.3" cy="411" rx="5" ry="1.6" fill="#ff1a1a"/>
<ellipse cx="241.3" cy="415.3" rx="4" ry="2" fill="#ff1a1a"/>
<ellipse cx="241.3" cy="423" rx="3" ry="2" fill="#ff1a1a"/>
<ellipse cx="241.3" cy="431" rx="2.5" ry="2" fill="#ff1a1a"/>
<ellipse cx="241.3" cy="436.3" rx="4" ry="2.2" fill="#ff1a1a"/>
<ellipse cx="241.3" cy="444.2" rx="3" ry="2" fill="#ff1a1a"/>
<ellipse cx="241.3" cy="452" rx="3" ry="2" fill="#ff1a1a"/>
<ellipse cx="241.3" cy="460" rx="2.2" ry="2" fill="#ff1a1a"/>
<ellipse cx="241.3" cy="468" rx="2" ry="2" fill="#ff1a1a"/>
<ellipse cx="241.3" cy="476" rx="2.2" ry="2" fill="#ff1a1a"/>
<ellipse cx="241.3" cy="486" rx="2" ry="2" fill="#ff1a1a"/>
<ellipse cx="241.3" cy="399.5" rx="3.5" ry="0.8" fill="#ffb0b0"/>
<ellipse cx="241.3" cy="407.6" rx="8" ry="0.8" fill="#ffb0b0"/>
<line x1="241.3" y1="396" x2="241.3" y2="412" stroke="#b040e0" stroke-width="1.2"/>
<rect x="177" y="252.0" width="128.2" height="246.5" fill="none" stroke="#000" stroke-width="2.1"/>
<line x1="317.6" y1="253" x2="317.6" y2="497" stroke="#2f9a2f" stroke-width="2"/>
<polygon points="317.6,304.3 321.6,305.4 337.5,306.6 337.5,307.1 321.6,308.3 317.6,309.4" fill="none" stroke="#2f9a2f" stroke-width="1.3"/>
<polygon points="317.6,320.5 322.6,321.3 371,321.6 435,322.7 435,323.90000000000003 371,325.0 322.6,325.3 317.6,326.1" fill="#2f9a2f" stroke="#2f9a2f" stroke-width="0.6"/>
<line x1="321.6" y1="323.2" x2="355" y2="323.4" stroke="#e8f4e8" stroke-width="0.9"/>
<polygon points="317.6,368.9 322.6,369.7 366,370.0 405.8,371.09999999999997 405.8,372.3 366,373.4 322.6,373.7 317.6,374.5" fill="#2f9a2f" stroke="#2f9a2f" stroke-width="0.6"/>
<line x1="321.6" y1="371.6" x2="340" y2="371.7" stroke="#e8f4e8" stroke-width="0.7"/>
<polygon points="317.6,484.40000000000003 322.6,485.20000000000005 345,485.50000000000006 381,487.0 381,488.20000000000005 345,489.7 322.6,490.0 317.6,490.8" fill="#2f9a2f" stroke="#2f9a2f" stroke-width="0.6"/>
<line x1="321.6" y1="487.5" x2="335" y2="487.6" stroke="#e8f4e8" stroke-width="0.9"/>
<polyline points="317.6,474 320.1,476.5 317.6,479" fill="none" stroke="#2f9a2f" stroke-width="1.2"/>
<rect x="317.6" y="321.8" width="5" height="3" fill="#555"/><rect x="317.6" y="370.3" width="4" height="2.6" fill="#777"/><rect x="317.6" y="486" width="4" height="2.8" fill="#777"/>
<rect x="309.9" y="252.0" width="128.4" height="246.5" fill="none" stroke="#000" stroke-width="2.1"/>
<line x1="40.9" y1="252.8" x2="44.1" y2="252.8" stroke="#000" stroke-width="1.7"/>
<text class="s" transform="translate(37.8,256.4) scale(1.075,1)" font-size="13.4" text-anchor="end">-10</text>
<line x1="42.2" y1="265.7" x2="44.1" y2="265.7" stroke="#000" stroke-width="1.7"/>
<line x1="40.9" y1="278.5" x2="44.1" y2="278.5" stroke="#000" stroke-width="1.7"/>
<text class="s" transform="translate(37.8,282.1) scale(1.075,1)" font-size="13.4" text-anchor="end">-8</text>
<line x1="42.2" y1="291.4" x2="44.1" y2="291.4" stroke="#000" stroke-width="1.7"/>
<line x1="40.9" y1="304.3" x2="44.1" y2="304.3" stroke="#000" stroke-width="1.7"/>
<text class="s" transform="translate(37.8,307.9) scale(1.075,1)" font-size="13.4" text-anchor="end">-6</text>
<line x1="42.2" y1="317.1" x2="44.1" y2="317.1" stroke="#000" stroke-width="1.7"/>
<line x1="40.9" y1="330.0" x2="44.1" y2="330.0" stroke="#000" stroke-width="1.7"/>
<text class="s" transform="translate(37.8,333.6) scale(1.075,1)" font-size="13.4" text-anchor="end">-4</text>
<line x1="42.2" y1="342.9" x2="44.1" y2="342.9" stroke="#000" stroke-width="1.7"/>
<line x1="40.9" y1="355.8" x2="44.1" y2="355.8" stroke="#000" stroke-width="1.7"/>
<text class="s" transform="translate(37.8,359.4) scale(1.075,1)" font-size="13.4" text-anchor="end">-2</text>
<line x1="42.2" y1="368.6" x2="44.1" y2="368.6" stroke="#000" stroke-width="1.7"/>
<line x1="40.9" y1="381.5" x2="44.1" y2="381.5" stroke="#000" stroke-width="1.7"/>
<text class="s" transform="translate(37.8,385.1) scale(1.075,1)" font-size="13.4" text-anchor="end">0</text>
<line x1="42.2" y1="394.4" x2="44.1" y2="394.4" stroke="#000" stroke-width="1.7"/>
<line x1="40.9" y1="407.2" x2="44.1" y2="407.2" stroke="#000" stroke-width="1.7"/>
<text class="s" transform="translate(37.8,410.8) scale(1.075,1)" font-size="13.4" text-anchor="end">2</text>
<line x1="42.2" y1="420.1" x2="44.1" y2="420.1" stroke="#000" stroke-width="1.7"/>
<line x1="40.9" y1="433.0" x2="44.1" y2="433.0" stroke="#000" stroke-width="1.7"/>
<text class="s" transform="translate(37.8,436.6) scale(1.075,1)" font-size="13.4" text-anchor="end">4</text>
<line x1="42.2" y1="445.9" x2="44.1" y2="445.9" stroke="#000" stroke-width="1.7"/>
<line x1="40.9" y1="458.7" x2="44.1" y2="458.7" stroke="#000" stroke-width="1.7"/>
<text class="s" transform="translate(37.8,462.3) scale(1.075,1)" font-size="13.4" text-anchor="end">6</text>
<line x1="42.2" y1="471.6" x2="44.1" y2="471.6" stroke="#000" stroke-width="1.7"/>
<line x1="40.9" y1="484.5" x2="44.1" y2="484.5" stroke="#000" stroke-width="1.7"/>
<text class="s" transform="translate(37.8,488.1) scale(1.075,1)" font-size="13.4" text-anchor="end">8</text>
<line x1="42.2" y1="497.3" x2="44.1" y2="497.3" stroke="#000" stroke-width="1.7"/>
<text class="s" transform="translate(22.8,423) rotate(-90)" font-size="17.5" textLength="98.5" lengthAdjust="spacingAndGlyphs">Energy (eV)</text>
<line x1="44.0" y1="498.5" x2="44.0" y2="501.6" stroke="#000" stroke-width="1.7"/>
<line x1="59.2" y1="498.5" x2="59.2" y2="500.5" stroke="#000" stroke-width="1.7"/>
<line x1="74.5" y1="498.5" x2="74.5" y2="501.6" stroke="#000" stroke-width="1.7"/>
<line x1="89.7" y1="498.5" x2="89.7" y2="500.5" stroke="#000" stroke-width="1.7"/>
<line x1="104.9" y1="498.5" x2="104.9" y2="501.6" stroke="#000" stroke-width="1.7"/>
<line x1="120.1" y1="498.5" x2="120.1" y2="500.5" stroke="#000" stroke-width="1.7"/>
<line x1="135.4" y1="498.5" x2="135.4" y2="501.6" stroke="#000" stroke-width="1.7"/>
<line x1="150.6" y1="498.5" x2="150.6" y2="500.5" stroke="#000" stroke-width="1.7"/>
<line x1="165.8" y1="498.5" x2="165.8" y2="501.6" stroke="#000" stroke-width="1.7"/>
<text class="s" x="44.0" y="514.5" font-size="13.4" text-anchor="middle">4</text>
<text class="s" x="74.5" y="514.5" font-size="13.4" text-anchor="middle">3</text>
<text class="s" x="104.9" y="514.5" font-size="13.4" text-anchor="middle">2</text>
<text class="s" x="135.4" y="514.5" font-size="13.4" text-anchor="middle">1</text>
<text class="s" x="162.3" y="514.5" font-size="13.4" textLength="21.5">0-4</text>
<line x1="177.0" y1="498.5" x2="177.0" y2="501.6" stroke="#000" stroke-width="1.7"/>
<line x1="193.0" y1="498.5" x2="193.0" y2="500.5" stroke="#000" stroke-width="1.7"/>
<line x1="209.0" y1="498.5" x2="209.0" y2="501.6" stroke="#000" stroke-width="1.7"/>
<line x1="225.1" y1="498.5" x2="225.1" y2="500.5" stroke="#000" stroke-width="1.7"/>
<line x1="241.1" y1="498.5" x2="241.1" y2="501.6" stroke="#000" stroke-width="1.7"/>
<line x1="257.1" y1="498.5" x2="257.1" y2="500.5" stroke="#000" stroke-width="1.7"/>
<line x1="273.2" y1="498.5" x2="273.2" y2="501.6" stroke="#000" stroke-width="1.7"/>
<line x1="289.2" y1="498.5" x2="289.2" y2="500.5" stroke="#000" stroke-width="1.7"/>
<line x1="305.2" y1="498.5" x2="305.2" y2="501.6" stroke="#000" stroke-width="1.7"/>
<text class="s" x="209.0" y="514.5" font-size="13.4" text-anchor="middle">-2</text>
<text class="s" x="241.1" y="514.5" font-size="13.4" text-anchor="middle">0</text>
<text class="s" x="273.2" y="514.5" font-size="13.4" text-anchor="middle">2</text>
<text class="s" x="305.5" y="514.5" font-size="13.4" text-anchor="middle">4</text>
<line x1="317.6" y1="498.5" x2="317.6" y2="501.6" stroke="#000" stroke-width="1.7"/>
<line x1="332.7" y1="498.5" x2="332.7" y2="500.5" stroke="#000" stroke-width="1.7"/>
<line x1="347.8" y1="498.5" x2="347.8" y2="501.6" stroke="#000" stroke-width="1.7"/>
<line x1="362.9" y1="498.5" x2="362.9" y2="500.5" stroke="#000" stroke-width="1.7"/>
<line x1="378.0" y1="498.5" x2="378.0" y2="501.6" stroke="#000" stroke-width="1.7"/>
<line x1="393.0" y1="498.5" x2="393.0" y2="500.5" stroke="#000" stroke-width="1.7"/>
<line x1="408.1" y1="498.5" x2="408.1" y2="501.6" stroke="#000" stroke-width="1.7"/>
<line x1="423.2" y1="498.5" x2="423.2" y2="500.5" stroke="#000" stroke-width="1.7"/>
<line x1="438.3" y1="498.5" x2="438.3" y2="501.6" stroke="#000" stroke-width="1.7"/>
<text class="s" x="317.6" y="514.5" font-size="13.4" text-anchor="middle">0</text>
<text class="s" x="347.8" y="514.5" font-size="13.4" text-anchor="middle">4</text>
<text class="s" x="378.0" y="514.5" font-size="13.4" text-anchor="middle">8</text>
<text class="s" x="408.1" y="514.5" font-size="13.4" text-anchor="middle">12</text>
<text class="s" x="438.3" y="514.5" font-size="13.4" text-anchor="middle">16</text>
<text class="s" x="68.2" y="528.2" font-size="13" textLength="81" lengthAdjust="spacingAndGlyphs">pDOS (1/eV)</text>
<text class="s" x="201" y="528.2" font-size="13" textLength="81" lengthAdjust="spacingAndGlyphs">pDOS (1/eV)</text>
<text class="s" x="333" y="528.2" font-size="13" textLength="81" lengthAdjust="spacingAndGlyphs">pDOS (1/eV)</text>
<text class="s" x="47.3" y="268.9" font-size="14.3" textLength="56.5" lengthAdjust="spacing">Ru SAs</text>
<text class="s" x="213.3" y="269" font-size="15.6">Ru*CO<tspan font-size="11" dy="4">2</tspan></text>
<text class="s" x="406.4" y="268.4" font-size="14">CO<tspan font-size="10" dy="4.6">2</tspan></text>
<text class="s" x="189.6" y="368.1" font-size="16.5">d-</text><text x="208" y="368.2" font-size="20" font-style="italic" font-family="Liberation Serif,serif">π</text>
<text x="421.5" y="334.8" font-size="19" font-family="Liberation Serif,serif">σ</text>
<text x="407.5" y="380.4" font-size="19" font-family="Liberation Serif,serif">π</text>
<text x="381.8" y="492.4" font-size="19" font-family="Liberation Serif,serif">σ<tspan font-weight="bold" dx="0.3">*</tspan></text>
<line x1="46" y1="452.3" x2="80.3" y2="452.3" stroke="#505050" stroke-width="2.2"/>
<line x1="46" y1="470.6" x2="80.3" y2="470.6" stroke="#f08a20" stroke-width="2.2"/>
<line x1="46" y1="488.2" x2="80.3" y2="488.2" stroke="#1616ff" stroke-width="2.2"/>
<text class="s" x="83.3" y="457.2" font-size="13.8" word-spacing="1.2">Ru s</text>
<text class="s" x="83.3" y="475.3" font-size="13.8" word-spacing="1.2">Ru p</text>
<text class="s" x="83.3" y="492.8" font-size="13.8" word-spacing="1.2">Ru d</text>
<line x1="179.2" y1="464.9" x2="212.9" y2="464.9" stroke="#9a30f0" stroke-width="2.2"/>
<line x1="179.2" y1="485.7" x2="212.9" y2="485.7" stroke="#ff1a1a" stroke-width="2.2"/>
<text class="s" x="216" y="470" font-size="14">Ru*CO<tspan font-size="10" dy="3.5">2</tspan><tspan dy="-3.5">-d*s</tspan></text>
<text class="s" x="216" y="490.8" font-size="14">Ru*CO<tspan font-size="10" dy="3.5">2</tspan><tspan dy="-3.5">-d*p</tspan></text>
<line x1="358.2" y1="452.4" x2="392" y2="452.4" stroke="#505050" stroke-width="2.2"/>
<line x1="358.2" y1="473.5" x2="392" y2="473.5" stroke="#2f9a2f" stroke-width="2.2"/>
<text class="s" x="395" y="457" font-size="14">CO<tspan font-size="10" dy="3.5">2</tspan><tspan dy="-3.5">-s</tspan></text>
<text class="s" x="395" y="478.5" font-size="14">CO<tspan font-size="10" dy="3.5">2</tspan><tspan dy="-3.5">-p</tspan></text>
<defs>
<radialGradient id="lbB" cx="0.35" cy="0.35" r="0.75"><stop offset="0" stop-color="#ffffff"/><stop offset="0.5" stop-color="#c8c8ff"/><stop offset="1" stop-color="#3030ff"/></radialGradient>
<radialGradient id="lbG" cx="0.35" cy="0.35" r="0.75"><stop offset="0" stop-color="#ffffff"/><stop offset="0.5" stop-color="#bfe0bf"/><stop offset="1" stop-color="#3a9a3a"/></radialGradient>
<path id="lobe" d="M0,0 C2.5,-5.5 9,-7.5 13,-5.5 C17,-3.2 17,3.2 13,5.5 C9,7.5 2.5,5.5 0,0 Z"/>
</defs>
<text class="t" x="440.6" y="245.5" font-size="21">(d)</text>
<line x1="470" y1="234" x2="470" y2="377" stroke="#000" stroke-width="2"/>
<path d="M470,227.6 L467.3,237.6 L472.7,237.6 Z" fill="#000"/>
<rect x="471.9" y="250" width="20.6" height="77" fill="url(#gBlue)" stroke="#2a2aff" stroke-width="1.5"/>
<line x1="469.3" y1="262.4" x2="650" y2="262.4" stroke="#000" stroke-width="1.6" stroke-dasharray="5.3,5"/>
<line x1="492.6" y1="289" x2="545.5" y2="264" stroke="#000" stroke-width="1.2" stroke-dasharray="1.2,1.6"/>
<line x1="492.6" y1="289" x2="545.5" y2="328" stroke="#000" stroke-width="1.2" stroke-dasharray="1.2,1.6"/>
<line x1="563.3" y1="263" x2="618.4" y2="283.5" stroke="#000" stroke-width="1.2" stroke-dasharray="1.2,1.6"/>
<line x1="563.3" y1="327.5" x2="618.4" y2="283.5" stroke="#000" stroke-width="1.2" stroke-dasharray="1.2,1.6"/>
<rect x="545.8" y="254.4" width="17.4" height="20.4" fill="url(#gRedT)" stroke="#ff1010" stroke-width="1.3"/>
<rect x="545.8" y="318.2" width="17.4" height="20.4" fill="#f4505a" stroke="#ff1010" stroke-width="1.3"/>
<rect x="618.6" y="274.6" width="17.2" height="16.8" fill="#a6d68e" stroke="#5aa84a" stroke-width="1"/>
<g transform="translate(485.6,342.5) scale(1.0)"><use href="#lobe" transform="rotate(-135)" fill="url(#lbB)" stroke="#2020ff" stroke-width="1.00"/><use href="#lobe" transform="rotate(-45)" fill="none" stroke="#2020ff" stroke-width="1.00"/><use href="#lobe" transform="rotate(45)" fill="url(#lbB)" stroke="#2020ff" stroke-width="1.00"/><use href="#lobe" transform="rotate(135)" fill="none" stroke="#2020ff" stroke-width="1.00"/></g>
<g transform="translate(546.9,289.1) scale(0.92)"><use href="#lobe" transform="rotate(-135)" fill="url(#lbB)" stroke="#2020ff" stroke-width="1.09"/><use href="#lobe" transform="rotate(-45)" fill="none" stroke="#2020ff" stroke-width="1.09"/><use href="#lobe" transform="rotate(45)" fill="url(#lbB)" stroke="#2020ff" stroke-width="1.09"/><use href="#lobe" transform="rotate(135)" fill="none" stroke="#2020ff" stroke-width="1.09"/></g>
<g transform="translate(563.0,289.1) scale(0.92)"><use href="#lobe" transform="rotate(-135)" fill="url(#lbG)" stroke="#3a9a3a" stroke-width="1.09"/><use href="#lobe" transform="rotate(-45)" fill="none" stroke="#3a9a3a" stroke-width="1.09"/><use href="#lobe" transform="rotate(45)" fill="url(#lbG)" stroke="#3a9a3a" stroke-width="1.09"/><use href="#lobe" transform="rotate(135)" fill="none" stroke="#3a9a3a" stroke-width="1.09"/></g>
<g transform="translate(626.5,306.8) scale(0.9)"><use href="#lobe" transform="rotate(-135)" fill="url(#lbG)" stroke="#3a9a3a" stroke-width="1.11"/><use href="#lobe" transform="rotate(-45)" fill="none" stroke="#3a9a3a" stroke-width="1.11"/><use href="#lobe" transform="rotate(45)" fill="url(#lbG)" stroke="#3a9a3a" stroke-width="1.11"/><use href="#lobe" transform="rotate(135)" fill="none" stroke="#3a9a3a" stroke-width="1.11"/></g>
<text class="t" x="529.2" y="248" font-size="18" textLength="66" lengthAdjust="spacingAndGlyphs">(<tspan class="ti">d</tspan><tspan font-size="12" dy="4">xz/yz</tspan><tspan dy="-4">-π)*</tspan></text>
<text class="t" x="532.3" y="355.3" font-size="18" textLength="60.5" lengthAdjust="spacingAndGlyphs">(<tspan class="ti">d</tspan><tspan font-size="12" dy="4.4">xz/yz</tspan><tspan dy="-4.4">-π)</tspan></text>
<text class="t" x="636.8" y="258" font-size="15.5">E<tspan font-size="12" dy="3.2">f</tspan></text>
<text class="t" x="604.8" y="333.3" font-size="15" textLength="44.6" lengthAdjust="spacingAndGlyphs">CO<tspan font-size="11" dy="2.6">2</tspan><tspan dy="-2.6" class="ti"> π*</tspan></text>
<text class="ti" x="472.5" y="369.3" font-size="15.5">d</text><text class="t" x="481.8" y="373.8" font-size="11.5">xz/yz</text>
<defs>
<radialGradient id="inG" cx="0.4" cy="0.38" r="0.65"><stop offset="0" stop-color="#e0b0e0"/><stop offset="0.5" stop-color="#b474b4"/><stop offset="1" stop-color="#985898"/></radialGradient>
<radialGradient id="oG" cx="0.4" cy="0.38" r="0.7"><stop offset="0" stop-color="#ff5a5a"/><stop offset="0.35" stop-color="#f01010"/><stop offset="1" stop-color="#d00000"/></radialGradient>
<radialGradient id="yG" cx="0.4" cy="0.4" r="0.65"><stop offset="0" stop-color="#fbfb90"/><stop offset="1" stop-color="#dcdc30"/></radialGradient>
<radialGradient id="cG" cx="0.4" cy="0.4" r="0.65"><stop offset="0" stop-color="#c8fafa"/><stop offset="1" stop-color="#60d8dc"/></radialGradient>
<radialGradient id="glow" cx="0.5" cy="0.5" r="0.5"><stop offset="0" stop-color="#f4f6a0"/><stop offset="0.65" stop-color="#f6f8b8"/><stop offset="1" stop-color="#fbfcdf" stop-opacity="0"/></radialGradient>
</defs>
<text class="t" x="440.6" y="391" font-size="21">(e)</text>
<g id="crL"><line x1="476.3" y1="435.8" x2="483.8" y2="439.6" stroke="#e01818" stroke-width="1.4"/>
<line x1="501" y1="429" x2="495.8" y2="435.8" stroke="#e01818" stroke-width="1.4"/>
<line x1="504.8" y1="447.8" x2="513" y2="452" stroke="#e01818" stroke-width="1.4"/>
<line x1="518.3" y1="420" x2="524.3" y2="423.8" stroke="#e01818" stroke-width="1.4"/>
<line x1="518.3" y1="420" x2="513" y2="426" stroke="#e01818" stroke-width="1.4"/>
<line x1="524.3" y1="423.8" x2="532.6" y2="420.8" stroke="#e01818" stroke-width="1.4"/>
<line x1="539.3" y1="417.8" x2="532.6" y2="420.8" stroke="#e01818" stroke-width="1.4"/>
<line x1="539.3" y1="417.8" x2="541.6" y2="408.8" stroke="#e01818" stroke-width="1.4"/>
<line x1="543.8" y1="436.6" x2="552" y2="439.6" stroke="#e01818" stroke-width="1.4"/>
<line x1="529.6" y1="436.6" x2="526.6" y2="444.8" stroke="#e01818" stroke-width="1.4"/>
<line x1="526.6" y1="444.8" x2="518.3" y2="440.3" stroke="#e01818" stroke-width="1.4"/>
<line x1="486.8" y1="455.8" x2="483" y2="463.3" stroke="#e01818" stroke-width="1.4"/>
<line x1="534" y1="455.8" x2="531" y2="463.3" stroke="#e01818" stroke-width="1.4"/>
<line x1="547.6" y1="451.3" x2="555" y2="455.8" stroke="#e01818" stroke-width="1.4"/>
<line x1="555" y1="455.8" x2="551.3" y2="463.3" stroke="#e01818" stroke-width="1.4"/>
<line x1="538.6" y1="467.8" x2="531" y2="463.3" stroke="#e01818" stroke-width="1.4"/>
<line x1="517.6" y1="464" x2="513" y2="471.5" stroke="#e01818" stroke-width="1.4"/>
<line x1="504.8" y1="467.8" x2="513" y2="471.5" stroke="#e01818" stroke-width="1.4"/>
<line x1="490.5" y1="475.3" x2="486.8" y2="482.8" stroke="#e01818" stroke-width="1.4"/>
<line x1="558.8" y1="475.3" x2="555" y2="482.8" stroke="#e01818" stroke-width="1.4"/>
<line x1="541.6" y1="483.5" x2="533.3" y2="479" stroke="#e01818" stroke-width="1.4"/>
<line x1="541.6" y1="483.5" x2="537.8" y2="491" stroke="#e01818" stroke-width="1.4"/>
<line x1="473.3" y1="483.5" x2="469.5" y2="491" stroke="#e01818" stroke-width="1.4"/>
<line x1="503.3" y1="491" x2="499.5" y2="498.6" stroke="#e01818" stroke-width="1.4"/>
<line x1="516.8" y1="491" x2="525" y2="494.8" stroke="#e01818" stroke-width="1.4"/>
<line x1="491.3" y1="495.6" x2="499.5" y2="498.6" stroke="#e01818" stroke-width="1.4"/>
<line x1="477" y1="501.6" x2="474" y2="509.8" stroke="#e01818" stroke-width="1.4"/>
<line x1="546.1" y1="501.6" x2="541.6" y2="509.8" stroke="#e01818" stroke-width="1.4"/>
<line x1="520.6" y1="505.3" x2="528" y2="509.8" stroke="#e01818" stroke-width="1.4"/>
<line x1="485.3" y1="420.8" x2="480.1" y2="414.8" stroke="#cc8ccc" stroke-width="1.8"/>
<line x1="480.1" y1="414.8" x2="474.8" y2="408.8" stroke="#e01818" stroke-width="1.8"/>
<line x1="485.3" y1="420.8" x2="478.6" y2="419.6" stroke="#cc8ccc" stroke-width="1.8"/>
<line x1="478.6" y1="419.6" x2="471.8" y2="418.5" stroke="#e01818" stroke-width="1.8"/>
<line x1="485.3" y1="420.8" x2="480.8" y2="428.3" stroke="#cc8ccc" stroke-width="1.8"/>
<line x1="480.8" y1="428.3" x2="476.3" y2="435.8" stroke="#e01818" stroke-width="1.8"/>
<line x1="485.3" y1="420.8" x2="489.1" y2="422.3" stroke="#cc8ccc" stroke-width="1.8"/>
<line x1="489.1" y1="422.3" x2="492.8" y2="423.8" stroke="#e01818" stroke-width="1.8"/>
<line x1="485.3" y1="420.8" x2="493.1" y2="424.9" stroke="#cc8ccc" stroke-width="1.8"/>
<line x1="493.1" y1="424.9" x2="501" y2="429" stroke="#e01818" stroke-width="1.8"/>
<line x1="485.3" y1="420.8" x2="490.6" y2="428.3" stroke="#cc8ccc" stroke-width="1.8"/>
<line x1="490.6" y1="428.3" x2="495.8" y2="435.8" stroke="#e01818" stroke-width="1.8"/>
<line x1="485.3" y1="420.8" x2="484.6" y2="430.2" stroke="#cc8ccc" stroke-width="1.8"/>
<line x1="484.6" y1="430.2" x2="483.8" y2="439.6" stroke="#e01818" stroke-width="1.8"/>
<line x1="504.8" y1="414" x2="498.8" y2="418.9" stroke="#cc8ccc" stroke-width="1.8"/>
<line x1="498.8" y1="418.9" x2="492.8" y2="423.8" stroke="#e01818" stroke-width="1.8"/>
<line x1="504.8" y1="414" x2="502.9" y2="421.5" stroke="#cc8ccc" stroke-width="1.8"/>
<line x1="502.9" y1="421.5" x2="501" y2="429" stroke="#e01818" stroke-width="1.8"/>
<line x1="504.8" y1="414" x2="511.5" y2="417.0" stroke="#cc8ccc" stroke-width="1.8"/>
<line x1="511.5" y1="417.0" x2="518.3" y2="420" stroke="#e01818" stroke-width="1.8"/>
<line x1="504.8" y1="414" x2="508.9" y2="420.0" stroke="#cc8ccc" stroke-width="1.8"/>
<line x1="508.9" y1="420.0" x2="513" y2="426" stroke="#e01818" stroke-width="1.8"/>
<line x1="528" y1="411" x2="523.1" y2="415.5" stroke="#cc8ccc" stroke-width="1.8"/>
<line x1="523.1" y1="415.5" x2="518.3" y2="420" stroke="#e01818" stroke-width="1.8"/>
<line x1="528" y1="411" x2="526.1" y2="417.4" stroke="#cc8ccc" stroke-width="1.8"/>
<line x1="526.1" y1="417.4" x2="524.3" y2="423.8" stroke="#e01818" stroke-width="1.8"/>
<line x1="528" y1="411" x2="533.6" y2="414.4" stroke="#cc8ccc" stroke-width="1.8"/>
<line x1="533.6" y1="414.4" x2="539.3" y2="417.8" stroke="#e01818" stroke-width="1.8"/>
<line x1="528" y1="411" x2="530.3" y2="415.9" stroke="#cc8ccc" stroke-width="1.8"/>
<line x1="530.3" y1="415.9" x2="532.6" y2="420.8" stroke="#e01818" stroke-width="1.8"/>
<line x1="528" y1="411" x2="534.8" y2="409.9" stroke="#cc8ccc" stroke-width="1.8"/>
<line x1="534.8" y1="409.9" x2="541.6" y2="408.8" stroke="#e01818" stroke-width="1.8"/>
<line x1="491.3" y1="441" x2="483.8" y2="438.4" stroke="#cc8ccc" stroke-width="1.8"/>
<line x1="483.8" y1="438.4" x2="476.3" y2="435.8" stroke="#e01818" stroke-width="1.8"/>
<line x1="491.3" y1="441" x2="484.9" y2="445.9" stroke="#cc8ccc" stroke-width="1.8"/>
<line x1="484.9" y1="445.9" x2="478.5" y2="450.8" stroke="#e01818" stroke-width="1.8"/>
<line x1="491.3" y1="441" x2="492.1" y2="432.4" stroke="#cc8ccc" stroke-width="1.8"/>
<line x1="492.1" y1="432.4" x2="492.8" y2="423.8" stroke="#e01818" stroke-width="1.8"/>
<line x1="491.3" y1="441" x2="496.1" y2="435.0" stroke="#cc8ccc" stroke-width="1.8"/>
<line x1="496.1" y1="435.0" x2="501" y2="429" stroke="#e01818" stroke-width="1.8"/>
<line x1="491.3" y1="441" x2="493.6" y2="438.4" stroke="#cc8ccc" stroke-width="1.8"/>
<line x1="493.6" y1="438.4" x2="495.8" y2="435.8" stroke="#e01818" stroke-width="1.8"/>
<line x1="491.3" y1="441" x2="487.6" y2="440.3" stroke="#cc8ccc" stroke-width="1.8"/>
<line x1="487.6" y1="440.3" x2="483.8" y2="439.6" stroke="#e01818" stroke-width="1.8"/>
<line x1="491.3" y1="441" x2="498.1" y2="444.4" stroke="#cc8ccc" stroke-width="1.8"/>
<line x1="498.1" y1="444.4" x2="504.8" y2="447.8" stroke="#e01818" stroke-width="1.8"/>
<line x1="491.3" y1="441" x2="489.1" y2="448.4" stroke="#cc8ccc" stroke-width="1.8"/>
<line x1="489.1" y1="448.4" x2="486.8" y2="455.8" stroke="#e01818" stroke-width="1.8"/>
<line x1="513" y1="435" x2="507.0" y2="432.0" stroke="#cc8ccc" stroke-width="1.8"/>
<line x1="507.0" y1="432.0" x2="501" y2="429" stroke="#e01818" stroke-width="1.8"/>
<line x1="513" y1="435" x2="504.4" y2="435.4" stroke="#cc8ccc" stroke-width="1.8"/>
<line x1="504.4" y1="435.4" x2="495.8" y2="435.8" stroke="#e01818" stroke-width="1.8"/>
<line x1="513" y1="435" x2="508.9" y2="441.4" stroke="#cc8ccc" stroke-width="1.8"/>
<line x1="508.9" y1="441.4" x2="504.8" y2="447.8" stroke="#e01818" stroke-width="1.8"/>
<line x1="513" y1="435" x2="515.6" y2="427.5" stroke="#cc8ccc" stroke-width="1.8"/>
<line x1="515.6" y1="427.5" x2="518.3" y2="420" stroke="#e01818" stroke-width="1.8"/>
<line x1="513" y1="435" x2="518.6" y2="429.4" stroke="#cc8ccc" stroke-width="1.8"/>
<line x1="518.6" y1="429.4" x2="524.3" y2="423.8" stroke="#e01818" stroke-width="1.8"/>
<line x1="513" y1="435" x2="521.3" y2="435.8" stroke="#cc8ccc" stroke-width="1.8"/>
<line x1="521.3" y1="435.8" x2="529.6" y2="436.6" stroke="#e01818" stroke-width="1.8"/>
<line x1="513" y1="435" x2="519.8" y2="439.9" stroke="#cc8ccc" stroke-width="1.8"/>
<line x1="519.8" y1="439.9" x2="526.6" y2="444.8" stroke="#e01818" stroke-width="1.8"/>
<line x1="513" y1="435" x2="515.6" y2="437.6" stroke="#cc8ccc" stroke-width="1.8"/>
<line x1="515.6" y1="437.6" x2="518.3" y2="440.3" stroke="#e01818" stroke-width="1.8"/>
<line x1="513" y1="435" x2="513.0" y2="430.5" stroke="#cc8ccc" stroke-width="1.8"/>
<line x1="513.0" y1="430.5" x2="513" y2="426" stroke="#e01818" stroke-width="1.8"/>
<line x1="513" y1="435" x2="513.0" y2="443.5" stroke="#cc8ccc" stroke-width="1.8"/>
<line x1="513.0" y1="443.5" x2="513" y2="452" stroke="#e01818" stroke-width="1.8"/>
<line x1="531.8" y1="430.6" x2="525.0" y2="425.3" stroke="#cc8ccc" stroke-width="1.8"/>
<line x1="525.0" y1="425.3" x2="518.3" y2="420" stroke="#e01818" stroke-width="1.8"/>
<line x1="531.8" y1="430.6" x2="528.0" y2="427.2" stroke="#cc8ccc" stroke-width="1.8"/>
<line x1="528.0" y1="427.2" x2="524.3" y2="423.8" stroke="#e01818" stroke-width="1.8"/>
<line x1="531.8" y1="430.6" x2="535.5" y2="424.2" stroke="#cc8ccc" stroke-width="1.8"/>
<line x1="535.5" y1="424.2" x2="539.3" y2="417.8" stroke="#e01818" stroke-width="1.8"/>
<line x1="531.8" y1="430.6" x2="539.7" y2="429.1" stroke="#cc8ccc" stroke-width="1.8"/>
<line x1="539.7" y1="429.1" x2="547.6" y2="427.5" stroke="#e01818" stroke-width="1.8"/>
<line x1="531.8" y1="430.6" x2="537.8" y2="433.6" stroke="#cc8ccc" stroke-width="1.8"/>
<line x1="537.8" y1="433.6" x2="543.8" y2="436.6" stroke="#e01818" stroke-width="1.8"/>
<line x1="531.8" y1="430.6" x2="530.7" y2="433.6" stroke="#cc8ccc" stroke-width="1.8"/>
<line x1="530.7" y1="433.6" x2="529.6" y2="436.6" stroke="#e01818" stroke-width="1.8"/>
<line x1="531.8" y1="430.6" x2="529.2" y2="437.7" stroke="#cc8ccc" stroke-width="1.8"/>
<line x1="529.2" y1="437.7" x2="526.6" y2="444.8" stroke="#e01818" stroke-width="1.8"/>
<line x1="531.8" y1="430.6" x2="525.0" y2="435.5" stroke="#cc8ccc" stroke-width="1.8"/>
<line x1="525.0" y1="435.5" x2="518.3" y2="440.3" stroke="#e01818" stroke-width="1.8"/>
<line x1="531.8" y1="430.6" x2="532.2" y2="425.7" stroke="#cc8ccc" stroke-width="1.8"/>
<line x1="532.2" y1="425.7" x2="532.6" y2="420.8" stroke="#e01818" stroke-width="1.8"/>
<line x1="540.1" y1="450.5" x2="542.0" y2="443.6" stroke="#cc8ccc" stroke-width="1.8"/>
<line x1="542.0" y1="443.6" x2="543.8" y2="436.6" stroke="#e01818" stroke-width="1.8"/>
<line x1="540.1" y1="450.5" x2="534.9" y2="443.6" stroke="#cc8ccc" stroke-width="1.8"/>
<line x1="534.9" y1="443.6" x2="529.6" y2="436.6" stroke="#e01818" stroke-width="1.8"/>
<line x1="540.1" y1="450.5" x2="546.0" y2="445.1" stroke="#cc8ccc" stroke-width="1.8"/>
<line x1="546.0" y1="445.1" x2="552" y2="439.6" stroke="#e01818" stroke-width="1.8"/>
<line x1="540.1" y1="450.5" x2="533.4" y2="447.6" stroke="#cc8ccc" stroke-width="1.8"/>
<line x1="533.4" y1="447.6" x2="526.6" y2="444.8" stroke="#e01818" stroke-width="1.8"/>
<line x1="540.1" y1="450.5" x2="537.0" y2="453.1" stroke="#cc8ccc" stroke-width="1.8"/>
<line x1="537.0" y1="453.1" x2="534" y2="455.8" stroke="#e01818" stroke-width="1.8"/>
<line x1="540.1" y1="450.5" x2="543.9" y2="450.9" stroke="#cc8ccc" stroke-width="1.8"/>
<line x1="543.9" y1="450.9" x2="547.6" y2="451.3" stroke="#e01818" stroke-width="1.8"/>
<line x1="540.1" y1="450.5" x2="547.5" y2="453.1" stroke="#cc8ccc" stroke-width="1.8"/>
<line x1="547.5" y1="453.1" x2="555" y2="455.8" stroke="#e01818" stroke-width="1.8"/>
<line x1="540.1" y1="450.5" x2="545.7" y2="456.9" stroke="#cc8ccc" stroke-width="1.8"/>
<line x1="545.7" y1="456.9" x2="551.3" y2="463.3" stroke="#e01818" stroke-width="1.8"/>
<line x1="540.1" y1="450.5" x2="539.4" y2="459.1" stroke="#cc8ccc" stroke-width="1.8"/>
<line x1="539.4" y1="459.1" x2="538.6" y2="467.8" stroke="#e01818" stroke-width="1.8"/>
<line x1="540.1" y1="450.5" x2="535.5" y2="456.9" stroke="#cc8ccc" stroke-width="1.8"/>
<line x1="535.5" y1="456.9" x2="531" y2="463.3" stroke="#e01818" stroke-width="1.8"/>
<line x1="517.6" y1="456.5" x2="511.2" y2="452.1" stroke="#cc8ccc" stroke-width="1.8"/>
<line x1="511.2" y1="452.1" x2="504.8" y2="447.8" stroke="#e01818" stroke-width="1.8"/>
<line x1="517.6" y1="456.5" x2="522.1" y2="450.6" stroke="#cc8ccc" stroke-width="1.8"/>
<line x1="522.1" y1="450.6" x2="526.6" y2="444.8" stroke="#e01818" stroke-width="1.8"/>
<line x1="517.6" y1="456.5" x2="518.0" y2="448.4" stroke="#cc8ccc" stroke-width="1.8"/>
<line x1="518.0" y1="448.4" x2="518.3" y2="440.3" stroke="#e01818" stroke-width="1.8"/>
<line x1="517.6" y1="456.5" x2="515.3" y2="454.2" stroke="#cc8ccc" stroke-width="1.8"/>
<line x1="515.3" y1="454.2" x2="513" y2="452" stroke="#e01818" stroke-width="1.8"/>
<line x1="517.6" y1="456.5" x2="525.8" y2="456.1" stroke="#cc8ccc" stroke-width="1.8"/>
<line x1="525.8" y1="456.1" x2="534" y2="455.8" stroke="#e01818" stroke-width="1.8"/>
<line x1="517.6" y1="456.5" x2="524.3" y2="459.9" stroke="#cc8ccc" stroke-width="1.8"/>
<line x1="524.3" y1="459.9" x2="531" y2="463.3" stroke="#e01818" stroke-width="1.8"/>
<line x1="517.6" y1="456.5" x2="517.6" y2="460.2" stroke="#cc8ccc" stroke-width="1.8"/>
<line x1="517.6" y1="460.2" x2="517.6" y2="464" stroke="#e01818" stroke-width="1.8"/>
<line x1="517.6" y1="456.5" x2="511.2" y2="462.1" stroke="#cc8ccc" stroke-width="1.8"/>
<line x1="511.2" y1="462.1" x2="504.8" y2="467.8" stroke="#e01818" stroke-width="1.8"/>
<line x1="517.6" y1="456.5" x2="515.3" y2="464.0" stroke="#cc8ccc" stroke-width="1.8"/>
<line x1="515.3" y1="464.0" x2="513" y2="471.5" stroke="#e01818" stroke-width="1.8"/>
<line x1="499.5" y1="462.5" x2="502.1" y2="455.1" stroke="#cc8ccc" stroke-width="1.8"/>
<line x1="502.1" y1="455.1" x2="504.8" y2="447.8" stroke="#e01818" stroke-width="1.8"/>
<line x1="499.5" y1="462.5" x2="493.1" y2="459.1" stroke="#cc8ccc" stroke-width="1.8"/>
<line x1="493.1" y1="459.1" x2="486.8" y2="455.8" stroke="#e01818" stroke-width="1.8"/>
<line x1="499.5" y1="462.5" x2="491.2" y2="462.9" stroke="#cc8ccc" stroke-width="1.8"/>
<line x1="491.2" y1="462.9" x2="483" y2="463.3" stroke="#e01818" stroke-width="1.8"/>
<line x1="499.5" y1="462.5" x2="506.2" y2="457.2" stroke="#cc8ccc" stroke-width="1.8"/>
<line x1="506.2" y1="457.2" x2="513" y2="452" stroke="#e01818" stroke-width="1.8"/>
<line x1="499.5" y1="462.5" x2="508.6" y2="463.2" stroke="#cc8ccc" stroke-width="1.8"/>
<line x1="508.6" y1="463.2" x2="517.6" y2="464" stroke="#e01818" stroke-width="1.8"/>
<line x1="499.5" y1="462.5" x2="502.1" y2="465.1" stroke="#cc8ccc" stroke-width="1.8"/>
<line x1="502.1" y1="465.1" x2="504.8" y2="467.8" stroke="#e01818" stroke-width="1.8"/>
<line x1="499.5" y1="462.5" x2="506.2" y2="467.0" stroke="#cc8ccc" stroke-width="1.8"/>
<line x1="506.2" y1="467.0" x2="513" y2="471.5" stroke="#e01818" stroke-width="1.8"/>
<line x1="499.5" y1="462.5" x2="495.0" y2="468.9" stroke="#cc8ccc" stroke-width="1.8"/>
<line x1="495.0" y1="468.9" x2="490.5" y2="475.3" stroke="#e01818" stroke-width="1.8"/>
<line x1="546.1" y1="468.5" x2="540.0" y2="462.1" stroke="#cc8ccc" stroke-width="1.8"/>
<line x1="540.0" y1="462.1" x2="534" y2="455.8" stroke="#e01818" stroke-width="1.8"/>
<line x1="546.1" y1="468.5" x2="546.9" y2="459.9" stroke="#cc8ccc" stroke-width="1.8"/>
<line x1="546.9" y1="459.9" x2="547.6" y2="451.3" stroke="#e01818" stroke-width="1.8"/>
<line x1="546.1" y1="468.5" x2="550.5" y2="462.1" stroke="#cc8ccc" stroke-width="1.8"/>
<line x1="550.5" y1="462.1" x2="555" y2="455.8" stroke="#e01818" stroke-width="1.8"/>
<line x1="546.1" y1="468.5" x2="548.7" y2="465.9" stroke="#cc8ccc" stroke-width="1.8"/>
<line x1="548.7" y1="465.9" x2="551.3" y2="463.3" stroke="#e01818" stroke-width="1.8"/>
<line x1="546.1" y1="468.5" x2="542.4" y2="468.1" stroke="#cc8ccc" stroke-width="1.8"/>
<line x1="542.4" y1="468.1" x2="538.6" y2="467.8" stroke="#e01818" stroke-width="1.8"/>
<line x1="546.1" y1="468.5" x2="538.5" y2="465.9" stroke="#cc8ccc" stroke-width="1.8"/>
<line x1="538.5" y1="465.9" x2="531" y2="463.3" stroke="#e01818" stroke-width="1.8"/>
<line x1="546.1" y1="468.5" x2="552.5" y2="471.9" stroke="#cc8ccc" stroke-width="1.8"/>
<line x1="552.5" y1="471.9" x2="558.8" y2="475.3" stroke="#e01818" stroke-width="1.8"/>
<line x1="546.1" y1="468.5" x2="550.5" y2="475.6" stroke="#cc8ccc" stroke-width="1.8"/>
<line x1="550.5" y1="475.6" x2="555" y2="482.8" stroke="#e01818" stroke-width="1.8"/>
<line x1="546.1" y1="468.5" x2="543.9" y2="476.0" stroke="#cc8ccc" stroke-width="1.8"/>
<line x1="543.9" y1="476.0" x2="541.6" y2="483.5" stroke="#e01818" stroke-width="1.8"/>
<line x1="546.1" y1="468.5" x2="539.7" y2="473.8" stroke="#cc8ccc" stroke-width="1.8"/>
<line x1="539.7" y1="473.8" x2="533.3" y2="479" stroke="#e01818" stroke-width="1.8"/>
<line x1="525.8" y1="477.5" x2="532.2" y2="472.6" stroke="#cc8ccc" stroke-width="1.8"/>
<line x1="532.2" y1="472.6" x2="538.6" y2="467.8" stroke="#e01818" stroke-width="1.8"/>
<line x1="525.8" y1="477.5" x2="528.4" y2="470.4" stroke="#cc8ccc" stroke-width="1.8"/>
<line x1="528.4" y1="470.4" x2="531" y2="463.3" stroke="#e01818" stroke-width="1.8"/>
<line x1="525.8" y1="477.5" x2="521.7" y2="470.8" stroke="#cc8ccc" stroke-width="1.8"/>
<line x1="521.7" y1="470.8" x2="517.6" y2="464" stroke="#e01818" stroke-width="1.8"/>
<line x1="525.8" y1="477.5" x2="519.4" y2="474.5" stroke="#cc8ccc" stroke-width="1.8"/>
<line x1="519.4" y1="474.5" x2="513" y2="471.5" stroke="#e01818" stroke-width="1.8"/>
<line x1="525.8" y1="477.5" x2="533.7" y2="480.5" stroke="#cc8ccc" stroke-width="1.8"/>
<line x1="533.7" y1="480.5" x2="541.6" y2="483.5" stroke="#e01818" stroke-width="1.8"/>
<line x1="525.8" y1="477.5" x2="529.5" y2="478.2" stroke="#cc8ccc" stroke-width="1.8"/>
<line x1="529.5" y1="478.2" x2="533.3" y2="479" stroke="#e01818" stroke-width="1.8"/>
<line x1="525.8" y1="477.5" x2="521.3" y2="484.2" stroke="#cc8ccc" stroke-width="1.8"/>
<line x1="521.3" y1="484.2" x2="516.8" y2="491" stroke="#e01818" stroke-width="1.8"/>
<line x1="525.8" y1="477.5" x2="525.4" y2="486.1" stroke="#cc8ccc" stroke-width="1.8"/>
<line x1="525.4" y1="486.1" x2="525" y2="494.8" stroke="#e01818" stroke-width="1.8"/>
<line x1="525.8" y1="477.5" x2="531.8" y2="484.2" stroke="#cc8ccc" stroke-width="1.8"/>
<line x1="531.8" y1="484.2" x2="537.8" y2="491" stroke="#e01818" stroke-width="1.8"/>
<line x1="504.8" y1="483.5" x2="504.8" y2="475.6" stroke="#cc8ccc" stroke-width="1.8"/>
<line x1="504.8" y1="475.6" x2="504.8" y2="467.8" stroke="#e01818" stroke-width="1.8"/>
<line x1="504.8" y1="483.5" x2="508.9" y2="477.5" stroke="#cc8ccc" stroke-width="1.8"/>
<line x1="508.9" y1="477.5" x2="513" y2="471.5" stroke="#e01818" stroke-width="1.8"/>
<line x1="504.8" y1="483.5" x2="497.6" y2="479.4" stroke="#cc8ccc" stroke-width="1.8"/>
<line x1="497.6" y1="479.4" x2="490.5" y2="475.3" stroke="#e01818" stroke-width="1.8"/>
<line x1="504.8" y1="483.5" x2="495.8" y2="483.1" stroke="#cc8ccc" stroke-width="1.8"/>
<line x1="495.8" y1="483.1" x2="486.8" y2="482.8" stroke="#e01818" stroke-width="1.8"/>
<line x1="504.8" y1="483.5" x2="504.1" y2="487.2" stroke="#cc8ccc" stroke-width="1.8"/>
<line x1="504.1" y1="487.2" x2="503.3" y2="491" stroke="#e01818" stroke-width="1.8"/>
<line x1="504.8" y1="483.5" x2="510.8" y2="487.2" stroke="#cc8ccc" stroke-width="1.8"/>
<line x1="510.8" y1="487.2" x2="516.8" y2="491" stroke="#e01818" stroke-width="1.8"/>
<line x1="504.8" y1="483.5" x2="498.1" y2="489.6" stroke="#cc8ccc" stroke-width="1.8"/>
<line x1="498.1" y1="489.6" x2="491.3" y2="495.6" stroke="#e01818" stroke-width="1.8"/>
<line x1="504.8" y1="483.5" x2="502.1" y2="491.1" stroke="#cc8ccc" stroke-width="1.8"/>
<line x1="502.1" y1="491.1" x2="499.5" y2="498.6" stroke="#e01818" stroke-width="1.8"/>
<line x1="486" y1="489.5" x2="488.2" y2="482.4" stroke="#cc8ccc" stroke-width="1.8"/>
<line x1="488.2" y1="482.4" x2="490.5" y2="475.3" stroke="#e01818" stroke-width="1.8"/>
<line x1="486" y1="489.5" x2="479.6" y2="486.5" stroke="#cc8ccc" stroke-width="1.8"/>
<line x1="479.6" y1="486.5" x2="473.3" y2="483.5" stroke="#e01818" stroke-width="1.8"/>
<line x1="486" y1="489.5" x2="486.4" y2="486.1" stroke="#cc8ccc" stroke-width="1.8"/>
<line x1="486.4" y1="486.1" x2="486.8" y2="482.8" stroke="#e01818" stroke-width="1.8"/>
<line x1="486" y1="489.5" x2="477.8" y2="490.2" stroke="#cc8ccc" stroke-width="1.8"/>
<line x1="477.8" y1="490.2" x2="469.5" y2="491" stroke="#e01818" stroke-width="1.8"/>
<line x1="486" y1="489.5" x2="494.6" y2="490.2" stroke="#cc8ccc" stroke-width="1.8"/>
<line x1="494.6" y1="490.2" x2="503.3" y2="491" stroke="#e01818" stroke-width="1.8"/>
<line x1="486" y1="489.5" x2="488.6" y2="492.6" stroke="#cc8ccc" stroke-width="1.8"/>
<line x1="488.6" y1="492.6" x2="491.3" y2="495.6" stroke="#e01818" stroke-width="1.8"/>
<line x1="486" y1="489.5" x2="481.5" y2="495.6" stroke="#cc8ccc" stroke-width="1.8"/>
<line x1="481.5" y1="495.6" x2="477" y2="501.6" stroke="#e01818" stroke-width="1.8"/>
<line x1="486" y1="489.5" x2="486.0" y2="497.4" stroke="#cc8ccc" stroke-width="1.8"/>
<line x1="486.0" y1="497.4" x2="486" y2="505.3" stroke="#e01818" stroke-width="1.8"/>
<line x1="486" y1="489.5" x2="492.8" y2="494.1" stroke="#cc8ccc" stroke-width="1.8"/>
<line x1="492.8" y1="494.1" x2="499.5" y2="498.6" stroke="#e01818" stroke-width="1.8"/>
<line x1="533.3" y1="495.6" x2="537.5" y2="489.6" stroke="#cc8ccc" stroke-width="1.8"/>
<line x1="537.5" y1="489.6" x2="541.6" y2="483.5" stroke="#e01818" stroke-width="1.8"/>
<line x1="533.3" y1="495.6" x2="533.3" y2="487.3" stroke="#cc8ccc" stroke-width="1.8"/>
<line x1="533.3" y1="487.3" x2="533.3" y2="479" stroke="#e01818" stroke-width="1.8"/>
<line x1="533.3" y1="495.6" x2="525.0" y2="493.3" stroke="#cc8ccc" stroke-width="1.8"/>
<line x1="525.0" y1="493.3" x2="516.8" y2="491" stroke="#e01818" stroke-width="1.8"/>
<line x1="533.3" y1="495.6" x2="529.1" y2="495.2" stroke="#cc8ccc" stroke-width="1.8"/>
<line x1="529.1" y1="495.2" x2="525" y2="494.8" stroke="#e01818" stroke-width="1.8"/>
<line x1="533.3" y1="495.6" x2="535.5" y2="493.3" stroke="#cc8ccc" stroke-width="1.8"/>
<line x1="535.5" y1="493.3" x2="537.8" y2="491" stroke="#e01818" stroke-width="1.8"/>
<line x1="533.3" y1="495.6" x2="539.7" y2="498.6" stroke="#cc8ccc" stroke-width="1.8"/>
<line x1="539.7" y1="498.6" x2="546.1" y2="501.6" stroke="#e01818" stroke-width="1.8"/>
<line x1="533.3" y1="495.6" x2="527.0" y2="500.5" stroke="#cc8ccc" stroke-width="1.8"/>
<line x1="527.0" y1="500.5" x2="520.6" y2="505.3" stroke="#e01818" stroke-width="1.8"/>
<line x1="533.3" y1="495.6" x2="530.6" y2="502.7" stroke="#cc8ccc" stroke-width="1.8"/>
<line x1="530.6" y1="502.7" x2="528" y2="509.8" stroke="#e01818" stroke-width="1.8"/>
<line x1="533.3" y1="495.6" x2="537.5" y2="502.7" stroke="#cc8ccc" stroke-width="1.8"/>
<line x1="537.5" y1="502.7" x2="541.6" y2="509.8" stroke="#e01818" stroke-width="1.8"/>
<line x1="513" y1="504.6" x2="508.1" y2="497.8" stroke="#cc8ccc" stroke-width="1.8"/>
<line x1="508.1" y1="497.8" x2="503.3" y2="491" stroke="#e01818" stroke-width="1.8"/>
<line x1="513" y1="504.6" x2="514.9" y2="497.8" stroke="#cc8ccc" stroke-width="1.8"/>
<line x1="514.9" y1="497.8" x2="516.8" y2="491" stroke="#e01818" stroke-width="1.8"/>
<line x1="513" y1="504.6" x2="519.0" y2="499.7" stroke="#cc8ccc" stroke-width="1.8"/>
<line x1="519.0" y1="499.7" x2="525" y2="494.8" stroke="#e01818" stroke-width="1.8"/>
<line x1="513" y1="504.6" x2="506.2" y2="501.6" stroke="#cc8ccc" stroke-width="1.8"/>
<line x1="506.2" y1="501.6" x2="499.5" y2="498.6" stroke="#e01818" stroke-width="1.8"/>
<line x1="513" y1="504.6" x2="516.8" y2="505.0" stroke="#cc8ccc" stroke-width="1.8"/>
<line x1="516.8" y1="505.0" x2="520.6" y2="505.3" stroke="#e01818" stroke-width="1.8"/>
<line x1="513" y1="504.6" x2="520.5" y2="507.2" stroke="#cc8ccc" stroke-width="1.8"/>
<line x1="520.5" y1="507.2" x2="528" y2="509.8" stroke="#e01818" stroke-width="1.8"/>
<line x1="513" y1="504.6" x2="510.4" y2="507.2" stroke="#cc8ccc" stroke-width="1.8"/>
<line x1="510.4" y1="507.2" x2="507.8" y2="509.8" stroke="#e01818" stroke-width="1.8"/>
<line x1="491.3" y1="510.6" x2="491.3" y2="503.1" stroke="#cc8ccc" stroke-width="1.8"/>
<line x1="491.3" y1="503.1" x2="491.3" y2="495.6" stroke="#e01818" stroke-width="1.8"/>
<line x1="491.3" y1="510.6" x2="484.1" y2="506.1" stroke="#cc8ccc" stroke-width="1.8"/>
<line x1="484.1" y1="506.1" x2="477" y2="501.6" stroke="#e01818" stroke-width="1.8"/>
<line x1="491.3" y1="510.6" x2="488.6" y2="508.0" stroke="#cc8ccc" stroke-width="1.8"/>
<line x1="488.6" y1="508.0" x2="486" y2="505.3" stroke="#e01818" stroke-width="1.8"/>
<line x1="491.3" y1="510.6" x2="495.4" y2="504.6" stroke="#cc8ccc" stroke-width="1.8"/>
<line x1="495.4" y1="504.6" x2="499.5" y2="498.6" stroke="#e01818" stroke-width="1.8"/>
<line x1="491.3" y1="510.6" x2="482.6" y2="510.2" stroke="#cc8ccc" stroke-width="1.8"/>
<line x1="482.6" y1="510.2" x2="474" y2="509.8" stroke="#e01818" stroke-width="1.8"/>
<line x1="491.3" y1="510.6" x2="499.6" y2="510.2" stroke="#cc8ccc" stroke-width="1.8"/>
<line x1="499.6" y1="510.2" x2="507.8" y2="509.8" stroke="#e01818" stroke-width="1.8"/>
<circle cx="474.8" cy="408.8" r="2.35" fill="url(#oG)"/>
<circle cx="471.8" cy="418.5" r="2.35" fill="url(#oG)"/>
<circle cx="476.3" cy="435.8" r="2.35" fill="url(#oG)"/>
<circle cx="478.5" cy="450.8" r="2.35" fill="url(#oG)"/>
<circle cx="492.8" cy="423.8" r="2.35" fill="url(#oG)"/>
<circle cx="501" cy="429" r="2.35" fill="url(#oG)"/>
<circle cx="495.8" cy="435.8" r="2.35" fill="url(#oG)"/>
<circle cx="483.8" cy="439.6" r="2.35" fill="url(#oG)"/>
<circle cx="504.8" cy="447.8" r="2.35" fill="url(#oG)"/>
<circle cx="518.3" cy="420" r="2.35" fill="url(#oG)"/>
<circle cx="524.3" cy="423.8" r="2.35" fill="url(#oG)"/>
<circle cx="539.3" cy="417.8" r="2.35" fill="url(#oG)"/>
<circle cx="547.6" cy="427.5" r="2.35" fill="url(#oG)"/>
<circle cx="543.8" cy="436.6" r="2.35" fill="url(#oG)"/>
<circle cx="529.6" cy="436.6" r="2.35" fill="url(#oG)"/>
<circle cx="552" cy="439.6" r="2.35" fill="url(#oG)"/>
<circle cx="526.6" cy="444.8" r="2.35" fill="url(#oG)"/>
<circle cx="518.3" cy="440.3" r="2.35" fill="url(#oG)"/>
<circle cx="513" cy="426" r="2.35" fill="url(#oG)"/>
<circle cx="532.6" cy="420.8" r="2.35" fill="url(#oG)"/>
<circle cx="541.6" cy="408.8" r="2.35" fill="url(#oG)"/>
<circle cx="486.8" cy="455.8" r="2.35" fill="url(#oG)"/>
<circle cx="483" cy="463.3" r="2.35" fill="url(#oG)"/>
<circle cx="513" cy="452" r="2.35" fill="url(#oG)"/>
<circle cx="534" cy="455.8" r="2.35" fill="url(#oG)"/>
<circle cx="547.6" cy="451.3" r="2.35" fill="url(#oG)"/>
<circle cx="555" cy="455.8" r="2.35" fill="url(#oG)"/>
<circle cx="551.3" cy="463.3" r="2.35" fill="url(#oG)"/>
<circle cx="538.6" cy="467.8" r="2.35" fill="url(#oG)"/>
<circle cx="531" cy="463.3" r="2.35" fill="url(#oG)"/>
<circle cx="517.6" cy="464" r="2.35" fill="url(#oG)"/>
<circle cx="504.8" cy="467.8" r="2.35" fill="url(#oG)"/>
<circle cx="513" cy="471.5" r="2.35" fill="url(#oG)"/>
<circle cx="490.5" cy="475.3" r="2.35" fill="url(#oG)"/>
<circle cx="558.8" cy="475.3" r="2.35" fill="url(#oG)"/>
<circle cx="555" cy="482.8" r="2.35" fill="url(#oG)"/>
<circle cx="541.6" cy="483.5" r="2.35" fill="url(#oG)"/>
<circle cx="533.3" cy="479" r="2.35" fill="url(#oG)"/>
<circle cx="473.3" cy="483.5" r="2.35" fill="url(#oG)"/>
<circle cx="486.8" cy="482.8" r="2.35" fill="url(#oG)"/>
<circle cx="469.5" cy="491" r="2.35" fill="url(#oG)"/>
<circle cx="503.3" cy="491" r="2.35" fill="url(#oG)"/>
<circle cx="516.8" cy="491" r="2.35" fill="url(#oG)"/>
<circle cx="525" cy="494.8" r="2.35" fill="url(#oG)"/>
<circle cx="537.8" cy="491" r="2.35" fill="url(#oG)"/>
<circle cx="491.3" cy="495.6" r="2.35" fill="url(#oG)"/>
<circle cx="477" cy="501.6" r="2.35" fill="url(#oG)"/>
<circle cx="486" cy="505.3" r="2.35" fill="url(#oG)"/>
<circle cx="499.5" cy="498.6" r="2.35" fill="url(#oG)"/>
<circle cx="546.1" cy="501.6" r="2.35" fill="url(#oG)"/>
<circle cx="520.6" cy="505.3" r="2.35" fill="url(#oG)"/>
<circle cx="528" cy="509.8" r="2.35" fill="url(#oG)"/>
<circle cx="541.6" cy="509.8" r="2.35" fill="url(#oG)"/>
<circle cx="474" cy="509.8" r="2.35" fill="url(#oG)"/>
<circle cx="507.8" cy="509.8" r="2.35" fill="url(#oG)"/>
<circle cx="485.3" cy="420.8" r="4.7" fill="url(#inG)"/>
<circle cx="504.8" cy="414" r="4.7" fill="url(#inG)"/>
<circle cx="528" cy="411" r="4.7" fill="url(#inG)"/>
<circle cx="491.3" cy="441" r="4.7" fill="url(#inG)"/>
<circle cx="513" cy="435" r="4.7" fill="url(#inG)"/>
<circle cx="531.8" cy="430.6" r="4.7" fill="url(#inG)"/>
<circle cx="540.1" cy="450.5" r="4.7" fill="url(#inG)"/>
<circle cx="517.6" cy="456.5" r="4.7" fill="url(#inG)"/>
<circle cx="499.5" cy="462.5" r="4.7" fill="url(#inG)"/>
<circle cx="546.1" cy="468.5" r="4.7" fill="url(#inG)"/>
<circle cx="525.8" cy="477.5" r="4.7" fill="url(#inG)"/>
<circle cx="504.8" cy="483.5" r="4.7" fill="url(#inG)"/>
<circle cx="486" cy="489.5" r="4.7" fill="url(#inG)"/>
<circle cx="533.3" cy="495.6" r="4.7" fill="url(#inG)"/>
<circle cx="513" cy="504.6" r="4.7" fill="url(#inG)"/>
<circle cx="491.3" cy="510.6" r="4.7" fill="url(#inG)"/></g>
<g transform="matrix(1.0865,0,0,1.06,73.75,-31.5)"><line x1="476.3" y1="435.8" x2="483.8" y2="439.6" stroke="#e01818" stroke-width="1.4"/>
<line x1="501" y1="429" x2="495.8" y2="435.8" stroke="#e01818" stroke-width="1.4"/>
<line x1="504.8" y1="447.8" x2="513" y2="452" stroke="#e01818" stroke-width="1.4"/>
<line x1="518.3" y1="420" x2="524.3" y2="423.8" stroke="#e01818" stroke-width="1.4"/>
<line x1="518.3" y1="420" x2="513" y2="426" stroke="#e01818" stroke-width="1.4"/>
<line x1="524.3" y1="423.8" x2="532.6" y2="420.8" stroke="#e01818" stroke-width="1.4"/>
<line x1="539.3" y1="417.8" x2="532.6" y2="420.8" stroke="#e01818" stroke-width="1.4"/>
<line x1="539.3" y1="417.8" x2="541.6" y2="408.8" stroke="#e01818" stroke-width="1.4"/>
<line x1="543.8" y1="436.6" x2="552" y2="439.6" stroke="#e01818" stroke-width="1.4"/>
<line x1="529.6" y1="436.6" x2="526.6" y2="444.8" stroke="#e01818" stroke-width="1.4"/>
<line x1="526.6" y1="444.8" x2="518.3" y2="440.3" stroke="#e01818" stroke-width="1.4"/>
<line x1="486.8" y1="455.8" x2="483" y2="463.3" stroke="#e01818" stroke-width="1.4"/>
<line x1="534" y1="455.8" x2="531" y2="463.3" stroke="#e01818" stroke-width="1.4"/>
<line x1="547.6" y1="451.3" x2="555" y2="455.8" stroke="#e01818" stroke-width="1.4"/>
<line x1="555" y1="455.8" x2="551.3" y2="463.3" stroke="#e01818" stroke-width="1.4"/>
<line x1="538.6" y1="467.8" x2="531" y2="463.3" stroke="#e01818" stroke-width="1.4"/>
<line x1="517.6" y1="464" x2="513" y2="471.5" stroke="#e01818" stroke-width="1.4"/>
<line x1="504.8" y1="467.8" x2="513" y2="471.5" stroke="#e01818" stroke-width="1.4"/>
<line x1="490.5" y1="475.3" x2="486.8" y2="482.8" stroke="#e01818" stroke-width="1.4"/>
<line x1="558.8" y1="475.3" x2="555" y2="482.8" stroke="#e01818" stroke-width="1.4"/>
<line x1="541.6" y1="483.5" x2="533.3" y2="479" stroke="#e01818" stroke-width="1.4"/>
<line x1="541.6" y1="483.5" x2="537.8" y2="491" stroke="#e01818" stroke-width="1.4"/>
<line x1="473.3" y1="483.5" x2="469.5" y2="491" stroke="#e01818" stroke-width="1.4"/>
<line x1="503.3" y1="491" x2="499.5" y2="498.6" stroke="#e01818" stroke-width="1.4"/>
<line x1="516.8" y1="491" x2="525" y2="494.8" stroke="#e01818" stroke-width="1.4"/>
<line x1="491.3" y1="495.6" x2="499.5" y2="498.6" stroke="#e01818" stroke-width="1.4"/>
<line x1="477" y1="501.6" x2="474" y2="509.8" stroke="#e01818" stroke-width="1.4"/>
<line x1="546.1" y1="501.6" x2="541.6" y2="509.8" stroke="#e01818" stroke-width="1.4"/>
<line x1="520.6" y1="505.3" x2="528" y2="509.8" stroke="#e01818" stroke-width="1.4"/>
<line x1="485.3" y1="420.8" x2="480.1" y2="414.8" stroke="#cc8ccc" stroke-width="1.8"/>
<line x1="480.1" y1="414.8" x2="474.8" y2="408.8" stroke="#e01818" stroke-width="1.8"/>
<line x1="485.3" y1="420.8" x2="478.6" y2="419.6" stroke="#cc8ccc" stroke-width="1.8"/>
<line x1="478.6" y1="419.6" x2="471.8" y2="418.5" stroke="#e01818" stroke-width="1.8"/>
<line x1="485.3" y1="420.8" x2="480.8" y2="428.3" stroke="#cc8ccc" stroke-width="1.8"/>
<line x1="480.8" y1="428.3" x2="476.3" y2="435.8" stroke="#e01818" stroke-width="1.8"/>
<line x1="485.3" y1="420.8" x2="489.1" y2="422.3" stroke="#cc8ccc" stroke-width="1.8"/>
<line x1="489.1" y1="422.3" x2="492.8" y2="423.8" stroke="#e01818" stroke-width="1.8"/>
<line x1="485.3" y1="420.8" x2="493.1" y2="424.9" stroke="#cc8ccc" stroke-width="1.8"/>
<line x1="493.1" y1="424.9" x2="501" y2="429" stroke="#e01818" stroke-width="1.8"/>
<line x1="485.3" y1="420.8" x2="490.6" y2="428.3" stroke="#cc8ccc" stroke-width="1.8"/>
<line x1="490.6" y1="428.3" x2="495.8" y2="435.8" stroke="#e01818" stroke-width="1.8"/>
<line x1="485.3" y1="420.8" x2="484.6" y2="430.2" stroke="#cc8ccc" stroke-width="1.8"/>
<line x1="484.6" y1="430.2" x2="483.8" y2="439.6" stroke="#e01818" stroke-width="1.8"/>
<line x1="504.8" y1="414" x2="498.8" y2="418.9" stroke="#cc8ccc" stroke-width="1.8"/>
<line x1="498.8" y1="418.9" x2="492.8" y2="423.8" stroke="#e01818" stroke-width="1.8"/>
<line x1="504.8" y1="414" x2="502.9" y2="421.5" stroke="#cc8ccc" stroke-width="1.8"/>
<line x1="502.9" y1="421.5" x2="501" y2="429" stroke="#e01818" stroke-width="1.8"/>
<line x1="504.8" y1="414" x2="511.5" y2="417.0" stroke="#cc8ccc" stroke-width="1.8"/>
<line x1="511.5" y1="417.0" x2="518.3" y2="420" stroke="#e01818" stroke-width="1.8"/>
<line x1="504.8" y1="414" x2="508.9" y2="420.0" stroke="#cc8ccc" stroke-width="1.8"/>
<line x1="508.9" y1="420.0" x2="513" y2="426" stroke="#e01818" stroke-width="1.8"/>
<line x1="528" y1="411" x2="523.1" y2="415.5" stroke="#cc8ccc" stroke-width="1.8"/>
<line x1="523.1" y1="415.5" x2="518.3" y2="420" stroke="#e01818" stroke-width="1.8"/>
<line x1="528" y1="411" x2="526.1" y2="417.4" stroke="#cc8ccc" stroke-width="1.8"/>
<line x1="526.1" y1="417.4" x2="524.3" y2="423.8" stroke="#e01818" stroke-width="1.8"/>
<line x1="528" y1="411" x2="533.6" y2="414.4" stroke="#cc8ccc" stroke-width="1.8"/>
<line x1="533.6" y1="414.4" x2="539.3" y2="417.8" stroke="#e01818" stroke-width="1.8"/>
<line x1="528" y1="411" x2="530.3" y2="415.9" stroke="#cc8ccc" stroke-width="1.8"/>
<line x1="530.3" y1="415.9" x2="532.6" y2="420.8" stroke="#e01818" stroke-width="1.8"/>
<line x1="528" y1="411" x2="534.8" y2="409.9" stroke="#cc8ccc" stroke-width="1.8"/>
<line x1="534.8" y1="409.9" x2="541.6" y2="408.8" stroke="#e01818" stroke-width="1.8"/>
<line x1="491.3" y1="441" x2="483.8" y2="438.4" stroke="#cc8ccc" stroke-width="1.8"/>
<line x1="483.8" y1="438.4" x2="476.3" y2="435.8" stroke="#e01818" stroke-width="1.8"/>
<line x1="491.3" y1="441" x2="484.9" y2="445.9" stroke="#cc8ccc" stroke-width="1.8"/>
<line x1="484.9" y1="445.9" x2="478.5" y2="450.8" stroke="#e01818" stroke-width="1.8"/>
<line x1="491.3" y1="441" x2="492.1" y2="432.4" stroke="#cc8ccc" stroke-width="1.8"/>
<line x1="492.1" y1="432.4" x2="492.8" y2="423.8" stroke="#e01818" stroke-width="1.8"/>
<line x1="491.3" y1="441" x2="496.1" y2="435.0" stroke="#cc8ccc" stroke-width="1.8"/>
<line x1="496.1" y1="435.0" x2="501" y2="429" stroke="#e01818" stroke-width="1.8"/>
<line x1="491.3" y1="441" x2="493.6" y2="438.4" stroke="#cc8ccc" stroke-width="1.8"/>
<line x1="493.6" y1="438.4" x2="495.8" y2="435.8" stroke="#e01818" stroke-width="1.8"/>
<line x1="491.3" y1="441" x2="487.6" y2="440.3" stroke="#cc8ccc" stroke-width="1.8"/>
<line x1="487.6" y1="440.3" x2="483.8" y2="439.6" stroke="#e01818" stroke-width="1.8"/>
<line x1="491.3" y1="441" x2="498.1" y2="444.4" stroke="#cc8ccc" stroke-width="1.8"/>
<line x1="498.1" y1="444.4" x2="504.8" y2="447.8" stroke="#e01818" stroke-width="1.8"/>
<line x1="491.3" y1="441" x2="489.1" y2="448.4" stroke="#cc8ccc" stroke-width="1.8"/>
<line x1="489.1" y1="448.4" x2="486.8" y2="455.8" stroke="#e01818" stroke-width="1.8"/>
<line x1="513" y1="435" x2="507.0" y2="432.0" stroke="#cc8ccc" stroke-width="1.8"/>
<line x1="507.0" y1="432.0" x2="501" y2="429" stroke="#e01818" stroke-width="1.8"/>
<line x1="513" y1="435" x2="504.4" y2="435.4" stroke="#cc8ccc" stroke-width="1.8"/>
<line x1="504.4" y1="435.4" x2="495.8" y2="435.8" stroke="#e01818" stroke-width="1.8"/>
<line x1="513" y1="435" x2="508.9" y2="441.4" stroke="#cc8ccc" stroke-width="1.8"/>
<line x1="508.9" y1="441.4" x2="504.8" y2="447.8" stroke="#e01818" stroke-width="1.8"/>
<line x1="513" y1="435" x2="515.6" y2="427.5" stroke="#cc8ccc" stroke-width="1.8"/>
<line x1="515.6" y1="427.5" x2="518.3" y2="420" stroke="#e01818" stroke-width="1.8"/>
<line x1="513" y1="435" x2="518.6" y2="429.4" stroke="#cc8ccc" stroke-width="1.8"/>
<line x1="518.6" y1="429.4" x2="524.3" y2="423.8" stroke="#e01818" stroke-width="1.8"/>
<line x1="513" y1="435" x2="521.3" y2="435.8" stroke="#cc8ccc" stroke-width="1.8"/>
<line x1="521.3" y1="435.8" x2="529.6" y2="436.6" stroke="#e01818" stroke-width="1.8"/>
<line x1="513" y1="435" x2="519.8" y2="439.9" stroke="#cc8ccc" stroke-width="1.8"/>
<line x1="519.8" y1="439.9" x2="526.6" y2="444.8" stroke="#e01818" stroke-width="1.8"/>
<line x1="513" y1="435" x2="515.6" y2="437.6" stroke="#cc8ccc" stroke-width="1.8"/>
<line x1="515.6" y1="437.6" x2="518.3" y2="440.3" stroke="#e01818" stroke-width="1.8"/>
<line x1="513" y1="435" x2="513.0" y2="430.5" stroke="#cc8ccc" stroke-width="1.8"/>
<line x1="513.0" y1="430.5" x2="513" y2="426" stroke="#e01818" stroke-width="1.8"/>
<line x1="513" y1="435" x2="513.0" y2="443.5" stroke="#cc8ccc" stroke-width="1.8"/>
<line x1="513.0" y1="443.5" x2="513" y2="452" stroke="#e01818" stroke-width="1.8"/>
<line x1="531.8" y1="430.6" x2="525.0" y2="425.3" stroke="#cc8ccc" stroke-width="1.8"/>
<line x1="525.0" y1="425.3" x2="518.3" y2="420" stroke="#e01818" stroke-width="1.8"/>
<line x1="531.8" y1="430.6" x2="528.0" y2="427.2" stroke="#cc8ccc" stroke-width="1.8"/>
<line x1="528.0" y1="427.2" x2="524.3" y2="423.8" stroke="#e01818" stroke-width="1.8"/>
<line x1="531.8" y1="430.6" x2="535.5" y2="424.2" stroke="#cc8ccc" stroke-width="1.8"/>
<line x1="535.5" y1="424.2" x2="539.3" y2="417.8" stroke="#e01818" stroke-width="1.8"/>
<line x1="531.8" y1="430.6" x2="539.7" y2="429.1" stroke="#cc8ccc" stroke-width="1.8"/>
<line x1="539.7" y1="429.1" x2="547.6" y2="427.5" stroke="#e01818" stroke-width="1.8"/>
<line x1="531.8" y1="430.6" x2="537.8" y2="433.6" stroke="#cc8ccc" stroke-width="1.8"/>
<line x1="537.8" y1="433.6" x2="543.8" y2="436.6" stroke="#e01818" stroke-width="1.8"/>
<line x1="531.8" y1="430.6" x2="530.7" y2="433.6" stroke="#cc8ccc" stroke-width="1.8"/>
<line x1="530.7" y1="433.6" x2="529.6" y2="436.6" stroke="#e01818" stroke-width="1.8"/>
<line x1="531.8" y1="430.6" x2="529.2" y2="437.7" stroke="#cc8ccc" stroke-width="1.8"/>
<line x1="529.2" y1="437.7" x2="526.6" y2="444.8" stroke="#e01818" stroke-width="1.8"/>
<line x1="531.8" y1="430.6" x2="525.0" y2="435.5" stroke="#cc8ccc" stroke-width="1.8"/>
<line x1="525.0" y1="435.5" x2="518.3" y2="440.3" stroke="#e01818" stroke-width="1.8"/>
<line x1="531.8" y1="430.6" x2="532.2" y2="425.7" stroke="#cc8ccc" stroke-width="1.8"/>
<line x1="532.2" y1="425.7" x2="532.6" y2="420.8" stroke="#e01818" stroke-width="1.8"/>
<line x1="540.1" y1="450.5" x2="542.0" y2="443.6" stroke="#cc8ccc" stroke-width="1.8"/>
<line x1="542.0" y1="443.6" x2="543.8" y2="436.6" stroke="#e01818" stroke-width="1.8"/>
<line x1="540.1" y1="450.5" x2="534.9" y2="443.6" stroke="#cc8ccc" stroke-width="1.8"/>
<line x1="534.9" y1="443.6" x2="529.6" y2="436.6" stroke="#e01818" stroke-width="1.8"/>
<line x1="540.1" y1="450.5" x2="546.0" y2="445.1" stroke="#cc8ccc" stroke-width="1.8"/>
<line x1="546.0" y1="445.1" x2="552" y2="439.6" stroke="#e01818" stroke-width="1.8"/>
<line x1="540.1" y1="450.5" x2="533.4" y2="447.6" stroke="#cc8ccc" stroke-width="1.8"/>
<line x1="533.4" y1="447.6" x2="526.6" y2="444.8" stroke="#e01818" stroke-width="1.8"/>
<line x1="540.1" y1="450.5" x2="537.0" y2="453.1" stroke="#cc8ccc" stroke-width="1.8"/>
<line x1="537.0" y1="453.1" x2="534" y2="455.8" stroke="#e01818" stroke-width="1.8"/>
<line x1="540.1" y1="450.5" x2="543.9" y2="450.9" stroke="#cc8ccc" stroke-width="1.8"/>
<line x1="543.9" y1="450.9" x2="547.6" y2="451.3" stroke="#e01818" stroke-width="1.8"/>
<line x1="540.1" y1="450.5" x2="547.5" y2="453.1" stroke="#cc8ccc" stroke-width="1.8"/>
<line x1="547.5" y1="453.1" x2="555" y2="455.8" stroke="#e01818" stroke-width="1.8"/>
<line x1="540.1" y1="450.5" x2="545.7" y2="456.9" stroke="#cc8ccc" stroke-width="1.8"/>
<line x1="545.7" y1="456.9" x2="551.3" y2="463.3" stroke="#e01818" stroke-width="1.8"/>
<line x1="540.1" y1="450.5" x2="539.4" y2="459.1" stroke="#cc8ccc" stroke-width="1.8"/>
<line x1="539.4" y1="459.1" x2="538.6" y2="467.8" stroke="#e01818" stroke-width="1.8"/>
<line x1="540.1" y1="450.5" x2="535.5" y2="456.9" stroke="#cc8ccc" stroke-width="1.8"/>
<line x1="535.5" y1="456.9" x2="531" y2="463.3" stroke="#e01818" stroke-width="1.8"/>
<line x1="517.6" y1="456.5" x2="511.2" y2="452.1" stroke="#cc8ccc" stroke-width="1.8"/>
<line x1="511.2" y1="452.1" x2="504.8" y2="447.8" stroke="#e01818" stroke-width="1.8"/>
<line x1="517.6" y1="456.5" x2="522.1" y2="450.6" stroke="#cc8ccc" stroke-width="1.8"/>
<line x1="522.1" y1="450.6" x2="526.6" y2="444.8" stroke="#e01818" stroke-width="1.8"/>
<line x1="517.6" y1="456.5" x2="518.0" y2="448.4" stroke="#cc8ccc" stroke-width="1.8"/>
<line x1="518.0" y1="448.4" x2="518.3" y2="440.3" stroke="#e01818" stroke-width="1.8"/>
<line x1="517.6" y1="456.5" x2="515.3" y2="454.2" stroke="#cc8ccc" stroke-width="1.8"/>
<line x1="515.3" y1="454.2" x2="513" y2="452" stroke="#e01818" stroke-width="1.8"/>
<line x1="517.6" y1="456.5" x2="525.8" y2="456.1" stroke="#cc8ccc" stroke-width="1.8"/>
<line x1="525.8" y1="456.1" x2="534" y2="455.8" stroke="#e01818" stroke-width="1.8"/>
<line x1="517.6" y1="456.5" x2="524.3" y2="459.9" stroke="#cc8ccc" stroke-width="1.8"/>
<line x1="524.3" y1="459.9" x2="531" y2="463.3" stroke="#e01818" stroke-width="1.8"/>
<line x1="517.6" y1="456.5" x2="517.6" y2="460.2" stroke="#cc8ccc" stroke-width="1.8"/>
<line x1="517.6" y1="460.2" x2="517.6" y2="464" stroke="#e01818" stroke-width="1.8"/>
<line x1="517.6" y1="456.5" x2="511.2" y2="462.1" stroke="#cc8ccc" stroke-width="1.8"/>
<line x1="511.2" y1="462.1" x2="504.8" y2="467.8" stroke="#e01818" stroke-width="1.8"/>
<line x1="517.6" y1="456.5" x2="515.3" y2="464.0" stroke="#cc8ccc" stroke-width="1.8"/>
<line x1="515.3" y1="464.0" x2="513" y2="471.5" stroke="#e01818" stroke-width="1.8"/>
<line x1="499.5" y1="462.5" x2="502.1" y2="455.1" stroke="#cc8ccc" stroke-width="1.8"/>
<line x1="502.1" y1="455.1" x2="504.8" y2="447.8" stroke="#e01818" stroke-width="1.8"/>
<line x1="499.5" y1="462.5" x2="493.1" y2="459.1" stroke="#cc8ccc" stroke-width="1.8"/>
<line x1="493.1" y1="459.1" x2="486.8" y2="455.8" stroke="#e01818" stroke-width="1.8"/>
<line x1="499.5" y1="462.5" x2="491.2" y2="462.9" stroke="#cc8ccc" stroke-width="1.8"/>
<line x1="491.2" y1="462.9" x2="483" y2="463.3" stroke="#e01818" stroke-width="1.8"/>
<line x1="499.5" y1="462.5" x2="506.2" y2="457.2" stroke="#cc8ccc" stroke-width="1.8"/>
<line x1="506.2" y1="457.2" x2="513" y2="452" stroke="#e01818" stroke-width="1.8"/>
<line x1="499.5" y1="462.5" x2="508.6" y2="463.2" stroke="#cc8ccc" stroke-width="1.8"/>
<line x1="508.6" y1="463.2" x2="517.6" y2="464" stroke="#e01818" stroke-width="1.8"/>
<line x1="499.5" y1="462.5" x2="502.1" y2="465.1" stroke="#cc8ccc" stroke-width="1.8"/>
<line x1="502.1" y1="465.1" x2="504.8" y2="467.8" stroke="#e01818" stroke-width="1.8"/>
<line x1="499.5" y1="462.5" x2="506.2" y2="467.0" stroke="#cc8ccc" stroke-width="1.8"/>
<line x1="506.2" y1="467.0" x2="513" y2="471.5" stroke="#e01818" stroke-width="1.8"/>
<line x1="499.5" y1="462.5" x2="495.0" y2="468.9" stroke="#cc8ccc" stroke-width="1.8"/>
<line x1="495.0" y1="468.9" x2="490.5" y2="475.3" stroke="#e01818" stroke-width="1.8"/>
<line x1="546.1" y1="468.5" x2="540.0" y2="462.1" stroke="#cc8ccc" stroke-width="1.8"/>
<line x1="540.0" y1="462.1" x2="534" y2="455.8" stroke="#e01818" stroke-width="1.8"/>
<line x1="546.1" y1="468.5" x2="546.9" y2="459.9" stroke="#cc8ccc" stroke-width="1.8"/>
<line x1="546.9" y1="459.9" x2="547.6" y2="451.3" stroke="#e01818" stroke-width="1.8"/>
<line x1="546.1" y1="468.5" x2="550.5" y2="462.1" stroke="#cc8ccc" stroke-width="1.8"/>
<line x1="550.5" y1="462.1" x2="555" y2="455.8" stroke="#e01818" stroke-width="1.8"/>
<line x1="546.1" y1="468.5" x2="548.7" y2="465.9" stroke="#cc8ccc" stroke-width="1.8"/>
<line x1="548.7" y1="465.9" x2="551.3" y2="463.3" stroke="#e01818" stroke-width="1.8"/>
<line x1="546.1" y1="468.5" x2="542.4" y2="468.1" stroke="#cc8ccc" stroke-width="1.8"/>
<line x1="542.4" y1="468.1" x2="538.6" y2="467.8" stroke="#e01818" stroke-width="1.8"/>
<line x1="546.1" y1="468.5" x2="538.5" y2="465.9" stroke="#cc8ccc" stroke-width="1.8"/>
<line x1="538.5" y1="465.9" x2="531" y2="463.3" stroke="#e01818" stroke-width="1.8"/>
<line x1="546.1" y1="468.5" x2="552.5" y2="471.9" stroke="#cc8ccc" stroke-width="1.8"/>
<line x1="552.5" y1="471.9" x2="558.8" y2="475.3" stroke="#e01818" stroke-width="1.8"/>
<line x1="546.1" y1="468.5" x2="550.5" y2="475.6" stroke="#cc8ccc" stroke-width="1.8"/>
<line x1="550.5" y1="475.6" x2="555" y2="482.8" stroke="#e01818" stroke-width="1.8"/>
<line x1="546.1" y1="468.5" x2="543.9" y2="476.0" stroke="#cc8ccc" stroke-width="1.8"/>
<line x1="543.9" y1="476.0" x2="541.6" y2="483.5" stroke="#e01818" stroke-width="1.8"/>
<line x1="546.1" y1="468.5" x2="539.7" y2="473.8" stroke="#cc8ccc" stroke-width="1.8"/>
<line x1="539.7" y1="473.8" x2="533.3" y2="479" stroke="#e01818" stroke-width="1.8"/>
<line x1="525.8" y1="477.5" x2="532.2" y2="472.6" stroke="#cc8ccc" stroke-width="1.8"/>
<line x1="532.2" y1="472.6" x2="538.6" y2="467.8" stroke="#e01818" stroke-width="1.8"/>
<line x1="525.8" y1="477.5" x2="528.4" y2="470.4" stroke="#cc8ccc" stroke-width="1.8"/>
<line x1="528.4" y1="470.4" x2="531" y2="463.3" stroke="#e01818" stroke-width="1.8"/>
<line x1="525.8" y1="477.5" x2="521.7" y2="470.8" stroke="#cc8ccc" stroke-width="1.8"/>
<line x1="521.7" y1="470.8" x2="517.6" y2="464" stroke="#e01818" stroke-width="1.8"/>
<line x1="525.8" y1="477.5" x2="519.4" y2="474.5" stroke="#cc8ccc" stroke-width="1.8"/>
<line x1="519.4" y1="474.5" x2="513" y2="471.5" stroke="#e01818" stroke-width="1.8"/>
<line x1="525.8" y1="477.5" x2="533.7" y2="480.5" stroke="#cc8ccc" stroke-width="1.8"/>
<line x1="533.7" y1="480.5" x2="541.6" y2="483.5" stroke="#e01818" stroke-width="1.8"/>
<line x1="525.8" y1="477.5" x2="529.5" y2="478.2" stroke="#cc8ccc" stroke-width="1.8"/>
<line x1="529.5" y1="478.2" x2="533.3" y2="479" stroke="#e01818" stroke-width="1.8"/>
<line x1="525.8" y1="477.5" x2="521.3" y2="484.2" stroke="#cc8ccc" stroke-width="1.8"/>
<line x1="521.3" y1="484.2" x2="516.8" y2="491" stroke="#e01818" stroke-width="1.8"/>
<line x1="525.8" y1="477.5" x2="525.4" y2="486.1" stroke="#cc8ccc" stroke-width="1.8"/>
<line x1="525.4" y1="486.1" x2="525" y2="494.8" stroke="#e01818" stroke-width="1.8"/>
<line x1="525.8" y1="477.5" x2="531.8" y2="484.2" stroke="#cc8ccc" stroke-width="1.8"/>
<line x1="531.8" y1="484.2" x2="537.8" y2="491" stroke="#e01818" stroke-width="1.8"/>
<line x1="504.8" y1="483.5" x2="504.8" y2="475.6" stroke="#cc8ccc" stroke-width="1.8"/>
<line x1="504.8" y1="475.6" x2="504.8" y2="467.8" stroke="#e01818" stroke-width="1.8"/>
<line x1="504.8" y1="483.5" x2="508.9" y2="477.5" stroke="#cc8ccc" stroke-width="1.8"/>
<line x1="508.9" y1="477.5" x2="513" y2="471.5" stroke="#e01818" stroke-width="1.8"/>
<line x1="504.8" y1="483.5" x2="497.6" y2="479.4" stroke="#cc8ccc" stroke-width="1.8"/>
<line x1="497.6" y1="479.4" x2="490.5" y2="475.3" stroke="#e01818" stroke-width="1.8"/>
<line x1="504.8" y1="483.5" x2="495.8" y2="483.1" stroke="#cc8ccc" stroke-width="1.8"/>
<line x1="495.8" y1="483.1" x2="486.8" y2="482.8" stroke="#e01818" stroke-width="1.8"/>
<line x1="504.8" y1="483.5" x2="504.1" y2="487.2" stroke="#cc8ccc" stroke-width="1.8"/>
<line x1="504.1" y1="487.2" x2="503.3" y2="491" stroke="#e01818" stroke-width="1.8"/>
<line x1="504.8" y1="483.5" x2="510.8" y2="487.2" stroke="#cc8ccc" stroke-width="1.8"/>
<line x1="510.8" y1="487.2" x2="516.8" y2="491" stroke="#e01818" stroke-width="1.8"/>
<line x1="504.8" y1="483.5" x2="498.1" y2="489.6" stroke="#cc8ccc" stroke-width="1.8"/>
<line x1="498.1" y1="489.6" x2="491.3" y2="495.6" stroke="#e01818" stroke-width="1.8"/>
<line x1="504.8" y1="483.5" x2="502.1" y2="491.1" stroke="#cc8ccc" stroke-width="1.8"/>
<line x1="502.1" y1="491.1" x2="499.5" y2="498.6" stroke="#e01818" stroke-width="1.8"/>
<line x1="486" y1="489.5" x2="488.2" y2="482.4" stroke="#cc8ccc" stroke-width="1.8"/>
<line x1="488.2" y1="482.4" x2="490.5" y2="475.3" stroke="#e01818" stroke-width="1.8"/>
<line x1="486" y1="489.5" x2="479.6" y2="486.5" stroke="#cc8ccc" stroke-width="1.8"/>
<line x1="479.6" y1="486.5" x2="473.3" y2="483.5" stroke="#e01818" stroke-width="1.8"/>
<line x1="486" y1="489.5" x2="486.4" y2="486.1" stroke="#cc8ccc" stroke-width="1.8"/>
<line x1="486.4" y1="486.1" x2="486.8" y2="482.8" stroke="#e01818" stroke-width="1.8"/>
<line x1="486" y1="489.5" x2="477.8" y2="490.2" stroke="#cc8ccc" stroke-width="1.8"/>
<line x1="477.8" y1="490.2" x2="469.5" y2="491" stroke="#e01818" stroke-width="1.8"/>
<line x1="486" y1="489.5" x2="494.6" y2="490.2" stroke="#cc8ccc" stroke-width="1.8"/>
<line x1="494.6" y1="490.2" x2="503.3" y2="491" stroke="#e01818" stroke-width="1.8"/>
<line x1="486" y1="489.5" x2="488.6" y2="492.6" stroke="#cc8ccc" stroke-width="1.8"/>
<line x1="488.6" y1="492.6" x2="491.3" y2="495.6" stroke="#e01818" stroke-width="1.8"/>
<line x1="486" y1="489.5" x2="481.5" y2="495.6" stroke="#cc8ccc" stroke-width="1.8"/>
<line x1="481.5" y1="495.6" x2="477" y2="501.6" stroke="#e01818" stroke-width="1.8"/>
<line x1="486" y1="489.5" x2="486.0" y2="497.4" stroke="#cc8ccc" stroke-width="1.8"/>
<line x1="486.0" y1="497.4" x2="486" y2="505.3" stroke="#e01818" stroke-width="1.8"/>
<line x1="486" y1="489.5" x2="492.8" y2="494.1" stroke="#cc8ccc" stroke-width="1.8"/>
<line x1="492.8" y1="494.1" x2="499.5" y2="498.6" stroke="#e01818" stroke-width="1.8"/>
<line x1="533.3" y1="495.6" x2="537.5" y2="489.6" stroke="#cc8ccc" stroke-width="1.8"/>
<line x1="537.5" y1="489.6" x2="541.6" y2="483.5" stroke="#e01818" stroke-width="1.8"/>
<line x1="533.3" y1="495.6" x2="533.3" y2="487.3" stroke="#cc8ccc" stroke-width="1.8"/>
<line x1="533.3" y1="487.3" x2="533.3" y2="479" stroke="#e01818" stroke-width="1.8"/>
<line x1="533.3" y1="495.6" x2="525.0" y2="493.3" stroke="#cc8ccc" stroke-width="1.8"/>
<line x1="525.0" y1="493.3" x2="516.8" y2="491" stroke="#e01818" stroke-width="1.8"/>
<line x1="533.3" y1="495.6" x2="529.1" y2="495.2" stroke="#cc8ccc" stroke-width="1.8"/>
<line x1="529.1" y1="495.2" x2="525" y2="494.8" stroke="#e01818" stroke-width="1.8"/>
<line x1="533.3" y1="495.6" x2="535.5" y2="493.3" stroke="#cc8ccc" stroke-width="1.8"/>
<line x1="535.5" y1="493.3" x2="537.8" y2="491" stroke="#e01818" stroke-width="1.8"/>
<line x1="533.3" y1="495.6" x2="539.7" y2="498.6" stroke="#cc8ccc" stroke-width="1.8"/>
<line x1="539.7" y1="498.6" x2="546.1" y2="501.6" stroke="#e01818" stroke-width="1.8"/>
<line x1="533.3" y1="495.6" x2="527.0" y2="500.5" stroke="#cc8ccc" stroke-width="1.8"/>
<line x1="527.0" y1="500.5" x2="520.6" y2="505.3" stroke="#e01818" stroke-width="1.8"/>
<line x1="533.3" y1="495.6" x2="530.6" y2="502.7" stroke="#cc8ccc" stroke-width="1.8"/>
<line x1="530.6" y1="502.7" x2="528" y2="509.8" stroke="#e01818" stroke-width="1.8"/>
<line x1="533.3" y1="495.6" x2="537.5" y2="502.7" stroke="#cc8ccc" stroke-width="1.8"/>
<line x1="537.5" y1="502.7" x2="541.6" y2="509.8" stroke="#e01818" stroke-width="1.8"/>
<line x1="513" y1="504.6" x2="508.1" y2="497.8" stroke="#cc8ccc" stroke-width="1.8"/>
<line x1="508.1" y1="497.8" x2="503.3" y2="491" stroke="#e01818" stroke-width="1.8"/>
<line x1="513" y1="504.6" x2="514.9" y2="497.8" stroke="#cc8ccc" stroke-width="1.8"/>
<line x1="514.9" y1="497.8" x2="516.8" y2="491" stroke="#e01818" stroke-width="1.8"/>
<line x1="513" y1="504.6" x2="519.0" y2="499.7" stroke="#cc8ccc" stroke-width="1.8"/>
<line x1="519.0" y1="499.7" x2="525" y2="494.8" stroke="#e01818" stroke-width="1.8"/>
<line x1="513" y1="504.6" x2="506.2" y2="501.6" stroke="#cc8ccc" stroke-width="1.8"/>
<line x1="506.2" y1="501.6" x2="499.5" y2="498.6" stroke="#e01818" stroke-width="1.8"/>
<line x1="513" y1="504.6" x2="516.8" y2="505.0" stroke="#cc8ccc" stroke-width="1.8"/>
<line x1="516.8" y1="505.0" x2="520.6" y2="505.3" stroke="#e01818" stroke-width="1.8"/>
<line x1="513" y1="504.6" x2="520.5" y2="507.2" stroke="#cc8ccc" stroke-width="1.8"/>
<line x1="520.5" y1="507.2" x2="528" y2="509.8" stroke="#e01818" stroke-width="1.8"/>
<line x1="513" y1="504.6" x2="510.4" y2="507.2" stroke="#cc8ccc" stroke-width="1.8"/>
<line x1="510.4" y1="507.2" x2="507.8" y2="509.8" stroke="#e01818" stroke-width="1.8"/>
<line x1="491.3" y1="510.6" x2="491.3" y2="503.1" stroke="#cc8ccc" stroke-width="1.8"/>
<line x1="491.3" y1="503.1" x2="491.3" y2="495.6" stroke="#e01818" stroke-width="1.8"/>
<line x1="491.3" y1="510.6" x2="484.1" y2="506.1" stroke="#cc8ccc" stroke-width="1.8"/>
<line x1="484.1" y1="506.1" x2="477" y2="501.6" stroke="#e01818" stroke-width="1.8"/>
<line x1="491.3" y1="510.6" x2="488.6" y2="508.0" stroke="#cc8ccc" stroke-width="1.8"/>
<line x1="488.6" y1="508.0" x2="486" y2="505.3" stroke="#e01818" stroke-width="1.8"/>
<line x1="491.3" y1="510.6" x2="495.4" y2="504.6" stroke="#cc8ccc" stroke-width="1.8"/>
<line x1="495.4" y1="504.6" x2="499.5" y2="498.6" stroke="#e01818" stroke-width="1.8"/>
<line x1="491.3" y1="510.6" x2="482.6" y2="510.2" stroke="#cc8ccc" stroke-width="1.8"/>
<line x1="482.6" y1="510.2" x2="474" y2="509.8" stroke="#e01818" stroke-width="1.8"/>
<line x1="491.3" y1="510.6" x2="499.6" y2="510.2" stroke="#cc8ccc" stroke-width="1.8"/>
<line x1="499.6" y1="510.2" x2="507.8" y2="509.8" stroke="#e01818" stroke-width="1.8"/>
<circle cx="474.8" cy="408.8" r="2.35" fill="url(#oG)"/>
<circle cx="471.8" cy="418.5" r="2.35" fill="url(#oG)"/>
<circle cx="476.3" cy="435.8" r="2.35" fill="url(#oG)"/>
<circle cx="478.5" cy="450.8" r="2.35" fill="url(#oG)"/>
<circle cx="492.8" cy="423.8" r="2.35" fill="url(#oG)"/>
<circle cx="501" cy="429" r="2.35" fill="url(#oG)"/>
<circle cx="495.8" cy="435.8" r="2.35" fill="url(#oG)"/>
<circle cx="483.8" cy="439.6" r="2.35" fill="url(#oG)"/>
<circle cx="504.8" cy="447.8" r="2.35" fill="url(#oG)"/>
<circle cx="518.3" cy="420" r="2.35" fill="url(#oG)"/>
<circle cx="524.3" cy="423.8" r="2.35" fill="url(#oG)"/>
<circle cx="539.3" cy="417.8" r="2.35" fill="url(#oG)"/>
<circle cx="547.6" cy="427.5" r="2.35" fill="url(#oG)"/>
<circle cx="543.8" cy="436.6" r="2.35" fill="url(#oG)"/>
<circle cx="529.6" cy="436.6" r="2.35" fill="url(#oG)"/>
<circle cx="552" cy="439.6" r="2.35" fill="url(#oG)"/>
<circle cx="526.6" cy="444.8" r="2.35" fill="url(#oG)"/>
<circle cx="518.3" cy="440.3" r="2.35" fill="url(#oG)"/>
<circle cx="513" cy="426" r="2.35" fill="url(#oG)"/>
<circle cx="532.6" cy="420.8" r="2.35" fill="url(#oG)"/>
<circle cx="541.6" cy="408.8" r="2.35" fill="url(#oG)"/>
<circle cx="486.8" cy="455.8" r="2.35" fill="url(#oG)"/>
<circle cx="483" cy="463.3" r="2.35" fill="url(#oG)"/>
<circle cx="513" cy="452" r="2.35" fill="url(#oG)"/>
<circle cx="534" cy="455.8" r="2.35" fill="url(#oG)"/>
<circle cx="547.6" cy="451.3" r="2.35" fill="url(#oG)"/>
<circle cx="555" cy="455.8" r="2.35" fill="url(#oG)"/>
<circle cx="551.3" cy="463.3" r="2.35" fill="url(#oG)"/>
<circle cx="538.6" cy="467.8" r="2.35" fill="url(#oG)"/>
<circle cx="531" cy="463.3" r="2.35" fill="url(#oG)"/>
<circle cx="517.6" cy="464" r="2.35" fill="url(#oG)"/>
<circle cx="504.8" cy="467.8" r="2.35" fill="url(#oG)"/>
<circle cx="513" cy="471.5" r="2.35" fill="url(#oG)"/>
<circle cx="490.5" cy="475.3" r="2.35" fill="url(#oG)"/>
<circle cx="558.8" cy="475.3" r="2.35" fill="url(#oG)"/>
<circle cx="555" cy="482.8" r="2.35" fill="url(#oG)"/>
<circle cx="541.6" cy="483.5" r="2.35" fill="url(#oG)"/>
<circle cx="533.3" cy="479" r="2.35" fill="url(#oG)"/>
<circle cx="473.3" cy="483.5" r="2.35" fill="url(#oG)"/>
<circle cx="486.8" cy="482.8" r="2.35" fill="url(#oG)"/>
<circle cx="469.5" cy="491" r="2.35" fill="url(#oG)"/>
<circle cx="503.3" cy="491" r="2.35" fill="url(#oG)"/>
<circle cx="516.8" cy="491" r="2.35" fill="url(#oG)"/>
<circle cx="525" cy="494.8" r="2.35" fill="url(#oG)"/>
<circle cx="537.8" cy="491" r="2.35" fill="url(#oG)"/>
<circle cx="491.3" cy="495.6" r="2.35" fill="url(#oG)"/>
<circle cx="477" cy="501.6" r="2.35" fill="url(#oG)"/>
<circle cx="486" cy="505.3" r="2.35" fill="url(#oG)"/>
<circle cx="499.5" cy="498.6" r="2.35" fill="url(#oG)"/>
<circle cx="546.1" cy="501.6" r="2.35" fill="url(#oG)"/>
<circle cx="520.6" cy="505.3" r="2.35" fill="url(#oG)"/>
<circle cx="528" cy="509.8" r="2.35" fill="url(#oG)"/>
<circle cx="541.6" cy="509.8" r="2.35" fill="url(#oG)"/>
<circle cx="474" cy="509.8" r="2.35" fill="url(#oG)"/>
<circle cx="507.8" cy="509.8" r="2.35" fill="url(#oG)"/>
<circle cx="485.3" cy="420.8" r="4.7" fill="url(#inG)"/>
<circle cx="504.8" cy="414" r="4.7" fill="url(#inG)"/>
<circle cx="528" cy="411" r="4.7" fill="url(#inG)"/>
<circle cx="491.3" cy="441" r="4.7" fill="url(#inG)"/>
<circle cx="513" cy="435" r="4.7" fill="url(#inG)"/>
<circle cx="531.8" cy="430.6" r="4.7" fill="url(#inG)"/>
<circle cx="540.1" cy="450.5" r="4.7" fill="url(#inG)"/>
<circle cx="517.6" cy="456.5" r="4.7" fill="url(#inG)"/>
<circle cx="499.5" cy="462.5" r="4.7" fill="url(#inG)"/>
<circle cx="546.1" cy="468.5" r="4.7" fill="url(#inG)"/>
<circle cx="525.8" cy="477.5" r="4.7" fill="url(#inG)"/>
<circle cx="504.8" cy="483.5" r="4.7" fill="url(#inG)"/>
<circle cx="486" cy="489.5" r="4.7" fill="url(#inG)"/>
<circle cx="533.3" cy="495.6" r="4.7" fill="url(#inG)"/>
<circle cx="513" cy="504.6" r="4.7" fill="url(#inG)"/>
<circle cx="491.3" cy="510.6" r="4.7" fill="url(#inG)"/></g>
<ellipse cx="528" cy="397" rx="9.5" ry="11" fill="url(#glow)"/>
<ellipse cx="489.4" cy="408.3" rx="3.2" ry="2.2" fill="url(#yG)"/>
<ellipse cx="497.7" cy="396" rx="3.6" ry="5.5" fill="url(#yG)"/>
<path d="M501,391 C504,388.5 511,388.5 514,391 C517,394 519,401 518.5,407 C518,412 511,414 505,413 C500,411.5 498.5,405 499,398 Z" fill="url(#cG)"/>
<path d="M502,394.5 L513,394 M501.5,399 L515,398.5 M502,403.5 L515,403 M504,408 L515,408" stroke="#40c0c8" stroke-width="0.8" opacity="0.7"/>
<ellipse cx="505.6" cy="386.8" rx="5.2" ry="4" fill="url(#yG)"/>
<ellipse cx="511.3" cy="393.4" rx="4" ry="2.8" fill="url(#yG)"/>
<ellipse cx="514.8" cy="407.8" rx="5.2" ry="3" fill="url(#yG)"/><ellipse cx="514" cy="407.8" rx="3" ry="1.3" fill="#f0a040"/>
<ellipse cx="499.5" cy="404.5" rx="2.2" ry="3" fill="url(#yG)"/>
<circle cx="499.3" cy="412.3" r="3" fill="#50f050" opacity="0.9"/><circle cx="499.3" cy="412.3" r="1.5" fill="#e02020"/>
<circle cx="528" cy="411" r="4.8" fill="url(#inG)"/><ellipse cx="528" cy="408.5" rx="3.6" ry="2" fill="#e0b080" opacity="0.7"/>
<ellipse cx="541.6" cy="408.8" rx="3.2" ry="2.4" fill="url(#cG)"/><circle cx="541.6" cy="408.8" r="1.5" fill="#e02020"/>
<path d="M524.8,408.3 C528,404.5 534.5,400 534.2,396.5 C533.5,393.5 529,392.3 523.5,391.4" fill="none" stroke="#000" stroke-width="1.7"/>
<path d="M519.8,390.8 L525.2,388.2 L524.6,394.2 Z" fill="#000"/>
<text class="ti" transform="translate(518.2,386.8) rotate(18)" font-size="15.5" textLength="24.5" lengthAdjust="spacingAndGlyphs">0.03</text>
<text class="ti" transform="translate(543.6,396.4) rotate(18)" font-size="14">e<tspan font-size="10" dy="-5">-</tspan></text>
<ellipse cx="613" cy="390.4" rx="9.5" ry="9" fill="url(#glow)"/>
<path d="M635,392 C640,387 652,386 657,390 C661,394 661,406 657,412 C653,416 644,416 639,412 C635,408 633,398 635,392 Z" fill="url(#cG)"/>
<path d="M639,392 L652,391 M639,396 L653,396 M640,400 L650,401" stroke="#a8f4f4" stroke-width="1.2"/>
<ellipse cx="629.4" cy="392.3" rx="5.2" ry="7" fill="url(#yG)"/>
<ellipse cx="638" cy="387.1" rx="4.6" ry="4.6" fill="url(#yG)"/>
<ellipse cx="633.4" cy="400.2" rx="3.6" ry="3.8" fill="url(#yG)"/>
<circle cx="650.4" cy="399.6" r="4.7" fill="url(#inG)"/><circle cx="650.2" cy="399.3" r="1.1" fill="#30e030"/>
<ellipse cx="655" cy="405.5" rx="2.6" ry="2" fill="url(#yG)"/>
<ellipse cx="666.2" cy="399.6" rx="3" ry="2.4" fill="url(#cG)" opacity="0.9"/><ellipse cx="667.0" cy="399.6" rx="1.6" ry="1.8" fill="#e8d040"/>
<ellipse cx="666.2" cy="421.2" rx="3" ry="2.4" fill="url(#cG)" opacity="0.9"/><ellipse cx="667.0" cy="421.2" rx="1.6" ry="1.8" fill="#e8d040"/>
<ellipse cx="621.5" cy="397.6" rx="3" ry="2.4" fill="url(#cG)" opacity="0.9"/><ellipse cx="622.3" cy="397.6" rx="1.6" ry="1.8" fill="#e8d040"/>
<ellipse cx="611" cy="415.3" rx="3" ry="2.4" fill="url(#cG)" opacity="0.9"/><ellipse cx="611.8" cy="415.3" rx="1.6" ry="1.8" fill="#e8d040"/>
<ellipse cx="636" cy="420" rx="3" ry="2.4" fill="url(#cG)" opacity="0.9"/><ellipse cx="636.8" cy="420" rx="1.6" ry="1.8" fill="#e8d040"/>
<ellipse cx="626" cy="413" rx="3" ry="2.4" fill="url(#cG)" opacity="0.9"/><ellipse cx="626.8" cy="413" rx="1.6" ry="1.8" fill="#e8d040"/>
<path d="M617.6,401.5 C614,398.5 609.5,396 609.2,392.5 C609.2,389.8 612,388.6 618,387.6" fill="none" stroke="#000" stroke-width="1.7"/>
<path d="M622.6,386.8 L617.2,384.6 L617.8,390.4 Z" fill="#000"/>
<text class="t" transform="translate(595.6,392.4) rotate(-21.5)" font-size="15.5" textLength="25" lengthAdjust="spacingAndGlyphs">0.24</text>
<text class="t" transform="translate(621,382) rotate(-21.5)" font-size="14">e<tspan font-size="10" dy="-5">-</tspan></text>
<line x1="450" y1="510.9" x2="450" y2="498.5" stroke="#2020ff" stroke-width="1.6"/><path d="M450,494.5 L447.6,499.5 L452.4,499.5 Z" fill="#2020ff"/><line x1="450" y1="510.9" x2="460" y2="510.9" stroke="#30d030" stroke-width="1.6"/><path d="M464,510.9 L459,508.5 L459,513.3 Z" fill="#30d030"/><circle cx="450" cy="510.9" r="1.6" fill="#902020"/><text class="s" x="448" y="492.5" font-size="7">c</text><text class="s" x="465.4" y="512.9" font-size="7">b</text>
<line x1="565.5" y1="512.8" x2="565.5" y2="499.5" stroke="#2020ff" stroke-width="1.6"/><path d="M565.5,495.5 L563.1,500.5 L567.9,500.5 Z" fill="#2020ff"/><line x1="565.5" y1="512.8" x2="576" y2="512.8" stroke="#30d030" stroke-width="1.6"/><path d="M580,512.8 L575,510.4 L575,515.1999999999999 Z" fill="#30d030"/><circle cx="565.5" cy="512.8" r="1.6" fill="#902020"/><text class="s" x="564" y="494.6" font-size="7">c</text><text class="s" x="582" y="514.7" font-size="7">b</text>
<text class="s" x="492.8" y="526.6" font-size="12.5">In<tspan font-size="9" dy="2.7">2</tspan><tspan dy="-2.7">O</tspan><tspan font-size="9" dy="2.7">3</tspan></text>
<text class="s" x="594.5" y="526.5" font-size="12.5" textLength="60.5">Ru<tspan font-size="9" dy="2.7">x</tspan><tspan dy="-2.7">In</tspan><tspan font-size="9" dy="2.7">2-x</tspan><tspan dy="-2.7">O</tspan><tspan font-size="9" dy="2.7">3</tspan></text>

</svg>
</body></html>
